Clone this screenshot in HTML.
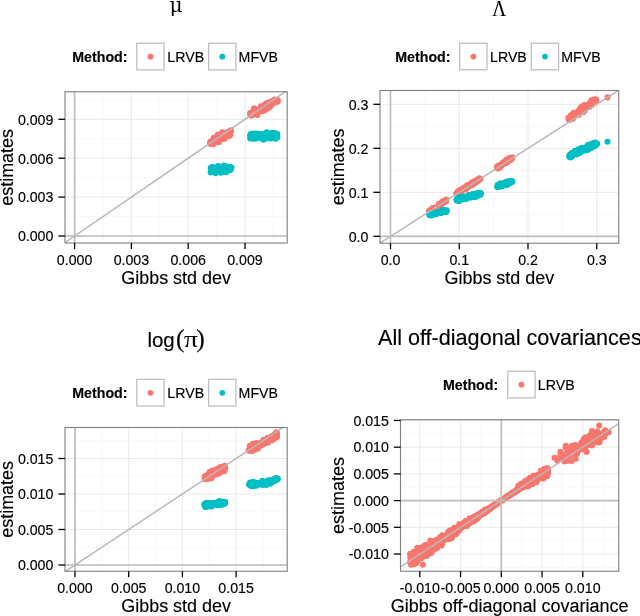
<!DOCTYPE html>
<html><head><meta charset="utf-8"><title>LRVB vs MFVB</title>
<style>html,body{margin:0;padding:0;background:#fff;}svg{display:block;}text{font-family:'Liberation Sans', Arial, Helvetica, sans-serif;fill:#000;stroke:#000;stroke-width:0.15px;}</style>
</head><body>
<svg width="640" height="616" viewBox="0 0 640 616" style="will-change:transform">
<rect width="640" height="616" fill="#fff"/>
<clipPath id="c1"><rect x="65" y="91.75" width="222.2" height="151.25"/></clipPath>
<g clip-path="url(#c1)">
<line x1="103.00" x2="103.00" y1="91.75" y2="243" stroke="#f6f6f6" stroke-width="0.8"/>
<line x1="159.80" x2="159.80" y1="91.75" y2="243" stroke="#f6f6f6" stroke-width="0.8"/>
<line x1="216.60" x2="216.60" y1="91.75" y2="243" stroke="#f6f6f6" stroke-width="0.8"/>
<line x1="273.40" x2="273.40" y1="91.75" y2="243" stroke="#f6f6f6" stroke-width="0.8"/>
<line y1="216.55" y2="216.55" x1="65" x2="287.2" stroke="#f6f6f6" stroke-width="0.8"/>
<line y1="177.65" y2="177.65" x1="65" x2="287.2" stroke="#f6f6f6" stroke-width="0.8"/>
<line y1="138.75" y2="138.75" x1="65" x2="287.2" stroke="#f6f6f6" stroke-width="0.8"/>
<line y1="99.85" y2="99.85" x1="65" x2="287.2" stroke="#f6f6f6" stroke-width="0.8"/>
<line x1="74.60" x2="74.60" y1="91.75" y2="243" stroke="#e6e6e6" stroke-width="0.9"/>
<line x1="131.40" x2="131.40" y1="91.75" y2="243" stroke="#e6e6e6" stroke-width="0.9"/>
<line x1="188.20" x2="188.20" y1="91.75" y2="243" stroke="#e6e6e6" stroke-width="0.9"/>
<line x1="245.00" x2="245.00" y1="91.75" y2="243" stroke="#e6e6e6" stroke-width="0.9"/>
<line y1="236.00" y2="236.00" x1="65" x2="287.2" stroke="#e6e6e6" stroke-width="0.9"/>
<line y1="197.10" y2="197.10" x1="65" x2="287.2" stroke="#e6e6e6" stroke-width="0.9"/>
<line y1="158.20" y2="158.20" x1="65" x2="287.2" stroke="#e6e6e6" stroke-width="0.9"/>
<line y1="119.30" y2="119.30" x1="65" x2="287.2" stroke="#e6e6e6" stroke-width="0.9"/>
<g fill="#F8766D">
<circle cx="216.9" cy="140.7" r="3.05"/>
<circle cx="221.4" cy="138.8" r="3.05"/>
<circle cx="211.2" cy="141.8" r="3.05"/>
<circle cx="211.5" cy="142.1" r="3.05"/>
<circle cx="219.0" cy="138.4" r="3.05"/>
<circle cx="223.4" cy="134.8" r="3.05"/>
<circle cx="222.3" cy="132.3" r="3.05"/>
<circle cx="228.3" cy="135.8" r="3.05"/>
<circle cx="213.1" cy="142.3" r="3.05"/>
<circle cx="213.8" cy="141.8" r="3.05"/>
<circle cx="223.6" cy="133.9" r="3.05"/>
<circle cx="211.3" cy="143.6" r="3.05"/>
<circle cx="224.5" cy="133.6" r="3.05"/>
<circle cx="219.7" cy="138.3" r="3.05"/>
<circle cx="226.9" cy="133.3" r="3.05"/>
<circle cx="221.2" cy="135.5" r="3.05"/>
<circle cx="225.5" cy="133.3" r="3.05"/>
<circle cx="218.9" cy="142.3" r="3.05"/>
<circle cx="213.2" cy="140.7" r="3.05"/>
<circle cx="226.3" cy="134.1" r="3.05"/>
<circle cx="228.6" cy="131.7" r="3.05"/>
<circle cx="222.4" cy="138.7" r="3.05"/>
<circle cx="227.9" cy="135.0" r="3.05"/>
<circle cx="211.3" cy="141.6" r="3.05"/>
<circle cx="223.8" cy="138.8" r="3.05"/>
<circle cx="218.2" cy="138.3" r="3.05"/>
<circle cx="210.5" cy="141.9" r="3.05"/>
<circle cx="211.3" cy="142.4" r="3.05"/>
<circle cx="212.8" cy="141.4" r="3.05"/>
<circle cx="211.7" cy="143.5" r="3.05"/>
<circle cx="221.7" cy="139.0" r="3.05"/>
<circle cx="215.9" cy="137.4" r="3.05"/>
<circle cx="217.6" cy="142.1" r="3.05"/>
<circle cx="213.8" cy="137.9" r="3.05"/>
<circle cx="215.0" cy="137.8" r="3.05"/>
<circle cx="210.1" cy="143.0" r="3.05"/>
<circle cx="217.9" cy="134.5" r="3.05"/>
<circle cx="221.0" cy="135.1" r="3.05"/>
<circle cx="224.4" cy="138.7" r="3.05"/>
<circle cx="228.6" cy="134.0" r="3.05"/>
<circle cx="218.4" cy="137.7" r="3.05"/>
<circle cx="211.3" cy="142.6" r="3.05"/>
<circle cx="214.4" cy="141.3" r="3.05"/>
<circle cx="210.0" cy="143.7" r="3.05"/>
<circle cx="212.2" cy="141.5" r="3.05"/>
<circle cx="223.1" cy="136.1" r="3.05"/>
<circle cx="215.4" cy="139.0" r="3.05"/>
<circle cx="228.1" cy="134.4" r="3.05"/>
<circle cx="219.9" cy="136.7" r="3.05"/>
<circle cx="217.3" cy="139.0" r="3.05"/>
<circle cx="227.7" cy="133.5" r="3.05"/>
<circle cx="221.3" cy="137.1" r="3.05"/>
<circle cx="221.6" cy="138.8" r="3.05"/>
<circle cx="228.4" cy="133.2" r="3.05"/>
<circle cx="215.6" cy="139.1" r="3.05"/>
<circle cx="221.3" cy="137.5" r="3.05"/>
<circle cx="217.0" cy="139.6" r="3.05"/>
<circle cx="228.2" cy="136.1" r="3.05"/>
<circle cx="227.4" cy="133.3" r="3.05"/>
<circle cx="217.6" cy="137.5" r="3.05"/>
<circle cx="210.6" cy="142.4" r="3.05"/>
<circle cx="230.4" cy="132.9" r="3.05"/>
<circle cx="230.0" cy="135.6" r="3.05"/>
<circle cx="214.7" cy="140.0" r="3.05"/>
<circle cx="214.2" cy="141.3" r="3.05"/>
<circle cx="227.9" cy="135.5" r="3.05"/>
<circle cx="223.9" cy="135.6" r="3.05"/>
<circle cx="229.4" cy="131.7" r="3.05"/>
<circle cx="226.0" cy="133.1" r="3.05"/>
<circle cx="217.1" cy="139.2" r="3.05"/>
<circle cx="230.7" cy="130.5" r="3.05"/>
<circle cx="225.4" cy="135.6" r="3.05"/>
<circle cx="212.7" cy="143.5" r="3.05"/>
<circle cx="213.1" cy="144.2" r="3.05"/>
<circle cx="230.9" cy="130.9" r="3.05"/>
<circle cx="212.8" cy="140.1" r="3.05"/>
<circle cx="230.7" cy="130.6" r="3.05"/>
<circle cx="219.2" cy="136.1" r="3.05"/>
<circle cx="227.6" cy="133.6" r="3.05"/>
<circle cx="215.1" cy="141.4" r="3.05"/>
<circle cx="215.5" cy="139.1" r="3.05"/>
<circle cx="217.5" cy="139.3" r="3.05"/>
<circle cx="222.4" cy="137.7" r="3.05"/>
<circle cx="220.7" cy="136.0" r="3.05"/>
<circle cx="221.2" cy="138.8" r="3.05"/>
<circle cx="250.1" cy="114.4" r="3.05"/>
<circle cx="254.8" cy="109.1" r="3.05"/>
<circle cx="259.1" cy="110.2" r="3.05"/>
<circle cx="265.6" cy="106.7" r="3.05"/>
<circle cx="257.0" cy="110.0" r="3.05"/>
<circle cx="271.6" cy="101.2" r="3.05"/>
<circle cx="275.5" cy="101.4" r="3.05"/>
<circle cx="267.2" cy="103.6" r="3.05"/>
<circle cx="262.7" cy="107.9" r="3.05"/>
<circle cx="263.4" cy="110.2" r="3.05"/>
<circle cx="276.4" cy="100.3" r="3.05"/>
<circle cx="265.7" cy="109.7" r="3.05"/>
<circle cx="253.4" cy="111.5" r="3.05"/>
<circle cx="252.0" cy="113.3" r="3.05"/>
<circle cx="272.0" cy="104.0" r="3.05"/>
<circle cx="254.3" cy="111.6" r="3.05"/>
<circle cx="274.7" cy="99.6" r="3.05"/>
<circle cx="256.1" cy="112.9" r="3.05"/>
<circle cx="277.7" cy="100.1" r="3.05"/>
<circle cx="254.5" cy="110.2" r="3.05"/>
<circle cx="255.5" cy="112.4" r="3.05"/>
<circle cx="270.2" cy="106.5" r="3.05"/>
<circle cx="250.5" cy="114.2" r="3.05"/>
<circle cx="267.5" cy="104.9" r="3.05"/>
<circle cx="272.1" cy="103.2" r="3.05"/>
<circle cx="252.9" cy="112.8" r="3.05"/>
<circle cx="257.6" cy="111.0" r="3.05"/>
<circle cx="261.8" cy="111.2" r="3.05"/>
<circle cx="254.2" cy="110.5" r="3.05"/>
<circle cx="266.0" cy="106.1" r="3.05"/>
<circle cx="269.3" cy="103.9" r="3.05"/>
<circle cx="252.0" cy="115.3" r="3.05"/>
<circle cx="252.3" cy="112.3" r="3.05"/>
<circle cx="251.9" cy="114.5" r="3.05"/>
<circle cx="265.5" cy="105.0" r="3.05"/>
<circle cx="257.5" cy="112.1" r="3.05"/>
<circle cx="253.1" cy="114.2" r="3.05"/>
<circle cx="251.4" cy="114.0" r="3.05"/>
<circle cx="271.3" cy="105.1" r="3.05"/>
<circle cx="264.0" cy="108.0" r="3.05"/>
<circle cx="257.0" cy="112.3" r="3.05"/>
<circle cx="270.5" cy="102.9" r="3.05"/>
<circle cx="276.2" cy="100.9" r="3.05"/>
<circle cx="272.9" cy="101.0" r="3.05"/>
<circle cx="261.0" cy="109.7" r="3.05"/>
<circle cx="269.3" cy="106.3" r="3.05"/>
<circle cx="269.8" cy="104.2" r="3.05"/>
<circle cx="261.3" cy="108.3" r="3.05"/>
<circle cx="252.0" cy="113.7" r="3.05"/>
<circle cx="257.2" cy="111.1" r="3.05"/>
<circle cx="274.4" cy="102.7" r="3.05"/>
<circle cx="257.9" cy="110.4" r="3.05"/>
<circle cx="254.4" cy="113.5" r="3.05"/>
<circle cx="257.4" cy="114.9" r="3.05"/>
<circle cx="256.8" cy="109.7" r="3.05"/>
<circle cx="258.7" cy="109.9" r="3.05"/>
<circle cx="263.3" cy="107.7" r="3.05"/>
<circle cx="255.6" cy="111.3" r="3.05"/>
<circle cx="252.5" cy="113.0" r="3.05"/>
<circle cx="251.2" cy="114.9" r="3.05"/>
<circle cx="266.4" cy="106.3" r="3.05"/>
<circle cx="271.0" cy="102.2" r="3.05"/>
<circle cx="260.9" cy="106.4" r="3.05"/>
<circle cx="277.6" cy="101.7" r="3.05"/>
<circle cx="251.2" cy="115.6" r="3.05"/>
<circle cx="275.0" cy="100.0" r="3.05"/>
<circle cx="253.9" cy="110.4" r="3.05"/>
<circle cx="264.1" cy="108.9" r="3.05"/>
<circle cx="266.4" cy="103.3" r="3.05"/>
<circle cx="269.1" cy="104.3" r="3.05"/>
<circle cx="253.7" cy="111.3" r="3.05"/>
<circle cx="252.9" cy="113.9" r="3.05"/>
<circle cx="267.5" cy="103.5" r="3.05"/>
<circle cx="263.7" cy="110.7" r="3.05"/>
<circle cx="264.1" cy="107.3" r="3.05"/>
<circle cx="268.5" cy="107.8" r="3.05"/>
<circle cx="252.1" cy="114.3" r="3.05"/>
<circle cx="270.4" cy="104.9" r="3.05"/>
<circle cx="263.8" cy="110.2" r="3.05"/>
<circle cx="263.4" cy="106.3" r="3.05"/>
<circle cx="268.0" cy="102.5" r="3.05"/>
<circle cx="254.1" cy="112.2" r="3.05"/>
<circle cx="265.9" cy="109.3" r="3.05"/>
<circle cx="251.7" cy="113.2" r="3.05"/>
<circle cx="268.9" cy="107.5" r="3.05"/>
<circle cx="264.5" cy="105.1" r="3.05"/>
<circle cx="275.0" cy="102.2" r="3.05"/>
<circle cx="277.4" cy="100.8" r="3.05"/>
<circle cx="273.0" cy="102.7" r="3.05"/>
<circle cx="262.6" cy="107.9" r="3.05"/>
<circle cx="255.9" cy="112.6" r="3.05"/>
<circle cx="254.0" cy="108.3" r="3.05"/>
<circle cx="273.0" cy="102.2" r="3.05"/>
<circle cx="274.8" cy="101.5" r="3.05"/>
<circle cx="263.6" cy="106.2" r="3.05"/>
<circle cx="250.1" cy="113.0" r="3.05"/>
<circle cx="253.9" cy="112.4" r="3.05"/>
<circle cx="258.9" cy="109.9" r="3.05"/>
<circle cx="273.5" cy="102.5" r="3.05"/>
<circle cx="275.9" cy="100.6" r="3.05"/>
</g>
<g fill="#00BFC4">
<circle cx="218.0" cy="166.1" r="3.05"/>
<circle cx="231.5" cy="167.6" r="3.05"/>
<circle cx="215.9" cy="168.8" r="3.05"/>
<circle cx="212.2" cy="170.4" r="3.05"/>
<circle cx="215.4" cy="168.5" r="3.05"/>
<circle cx="221.0" cy="169.7" r="3.05"/>
<circle cx="229.0" cy="169.8" r="3.05"/>
<circle cx="223.6" cy="172.1" r="3.05"/>
<circle cx="225.5" cy="166.9" r="3.05"/>
<circle cx="225.7" cy="166.3" r="3.05"/>
<circle cx="216.2" cy="170.3" r="3.05"/>
<circle cx="229.9" cy="169.5" r="3.05"/>
<circle cx="216.4" cy="170.7" r="3.05"/>
<circle cx="231.0" cy="168.2" r="3.05"/>
<circle cx="222.0" cy="171.3" r="3.05"/>
<circle cx="213.6" cy="170.2" r="3.05"/>
<circle cx="220.7" cy="170.0" r="3.05"/>
<circle cx="229.5" cy="170.0" r="3.05"/>
<circle cx="214.1" cy="169.6" r="3.05"/>
<circle cx="217.4" cy="170.4" r="3.05"/>
<circle cx="222.2" cy="169.6" r="3.05"/>
<circle cx="226.1" cy="167.4" r="3.05"/>
<circle cx="218.1" cy="170.2" r="3.05"/>
<circle cx="211.3" cy="169.3" r="3.05"/>
<circle cx="220.8" cy="172.8" r="3.05"/>
<circle cx="228.6" cy="168.8" r="3.05"/>
<circle cx="218.6" cy="170.5" r="3.05"/>
<circle cx="230.5" cy="169.8" r="3.05"/>
<circle cx="210.7" cy="168.0" r="3.05"/>
<circle cx="229.3" cy="166.7" r="3.05"/>
<circle cx="218.4" cy="169.7" r="3.05"/>
<circle cx="227.8" cy="171.0" r="3.05"/>
<circle cx="212.3" cy="166.9" r="3.05"/>
<circle cx="221.2" cy="167.6" r="3.05"/>
<circle cx="223.9" cy="165.6" r="3.05"/>
<circle cx="219.8" cy="168.8" r="3.05"/>
<circle cx="215.0" cy="169.5" r="3.05"/>
<circle cx="223.9" cy="168.6" r="3.05"/>
<circle cx="223.7" cy="169.7" r="3.05"/>
<circle cx="212.4" cy="171.4" r="3.05"/>
<circle cx="218.3" cy="170.1" r="3.05"/>
<circle cx="222.9" cy="170.3" r="3.05"/>
<circle cx="230.6" cy="168.4" r="3.05"/>
<circle cx="229.0" cy="167.5" r="3.05"/>
<circle cx="230.7" cy="168.5" r="3.05"/>
<circle cx="216.6" cy="171.3" r="3.05"/>
<circle cx="219.0" cy="169.5" r="3.05"/>
<circle cx="224.3" cy="169.8" r="3.05"/>
<circle cx="217.3" cy="168.9" r="3.05"/>
<circle cx="224.7" cy="169.7" r="3.05"/>
<circle cx="220.9" cy="171.7" r="3.05"/>
<circle cx="230.9" cy="167.5" r="3.05"/>
<circle cx="214.8" cy="172.2" r="3.05"/>
<circle cx="216.3" cy="171.2" r="3.05"/>
<circle cx="214.8" cy="169.1" r="3.05"/>
<circle cx="224.3" cy="169.7" r="3.05"/>
<circle cx="214.6" cy="169.4" r="3.05"/>
<circle cx="213.1" cy="170.2" r="3.05"/>
<circle cx="229.3" cy="168.6" r="3.05"/>
<circle cx="225.8" cy="172.3" r="3.05"/>
<circle cx="214.0" cy="169.6" r="3.05"/>
<circle cx="226.0" cy="170.9" r="3.05"/>
<circle cx="218.0" cy="169.8" r="3.05"/>
<circle cx="213.6" cy="170.9" r="3.05"/>
<circle cx="230.5" cy="168.4" r="3.05"/>
<circle cx="230.7" cy="168.7" r="3.05"/>
<circle cx="227.7" cy="169.9" r="3.05"/>
<circle cx="211.1" cy="168.7" r="3.05"/>
<circle cx="214.2" cy="169.9" r="3.05"/>
<circle cx="229.3" cy="169.9" r="3.05"/>
<circle cx="226.5" cy="169.0" r="3.05"/>
<circle cx="210.7" cy="172.4" r="3.05"/>
<circle cx="226.1" cy="170.0" r="3.05"/>
<circle cx="217.3" cy="168.9" r="3.05"/>
<circle cx="215.6" cy="173.2" r="3.05"/>
<circle cx="216.8" cy="169.4" r="3.05"/>
<circle cx="229.7" cy="168.6" r="3.05"/>
<circle cx="230.3" cy="169.3" r="3.05"/>
<circle cx="230.6" cy="168.5" r="3.05"/>
<circle cx="218.3" cy="169.3" r="3.05"/>
<circle cx="275.5" cy="136.8" r="3.05"/>
<circle cx="272.1" cy="135.1" r="3.05"/>
<circle cx="266.7" cy="132.3" r="3.05"/>
<circle cx="258.8" cy="134.0" r="3.05"/>
<circle cx="255.4" cy="138.6" r="3.05"/>
<circle cx="256.8" cy="136.6" r="3.05"/>
<circle cx="259.0" cy="136.3" r="3.05"/>
<circle cx="274.3" cy="136.5" r="3.05"/>
<circle cx="252.7" cy="136.3" r="3.05"/>
<circle cx="269.5" cy="134.2" r="3.05"/>
<circle cx="267.1" cy="136.0" r="3.05"/>
<circle cx="270.6" cy="136.9" r="3.05"/>
<circle cx="273.1" cy="133.2" r="3.05"/>
<circle cx="265.6" cy="133.6" r="3.05"/>
<circle cx="256.8" cy="138.3" r="3.05"/>
<circle cx="254.2" cy="138.0" r="3.05"/>
<circle cx="260.9" cy="134.4" r="3.05"/>
<circle cx="264.0" cy="136.2" r="3.05"/>
<circle cx="277.3" cy="137.2" r="3.05"/>
<circle cx="263.1" cy="137.3" r="3.05"/>
<circle cx="251.1" cy="134.0" r="3.05"/>
<circle cx="253.3" cy="138.1" r="3.05"/>
<circle cx="275.6" cy="138.8" r="3.05"/>
<circle cx="273.8" cy="134.0" r="3.05"/>
<circle cx="276.0" cy="135.5" r="3.05"/>
<circle cx="266.4" cy="134.7" r="3.05"/>
<circle cx="253.9" cy="135.6" r="3.05"/>
<circle cx="257.0" cy="134.1" r="3.05"/>
<circle cx="250.3" cy="135.5" r="3.05"/>
<circle cx="268.7" cy="136.1" r="3.05"/>
<circle cx="271.9" cy="136.7" r="3.05"/>
<circle cx="251.7" cy="137.7" r="3.05"/>
<circle cx="267.6" cy="136.7" r="3.05"/>
<circle cx="254.5" cy="135.7" r="3.05"/>
<circle cx="258.5" cy="134.4" r="3.05"/>
<circle cx="258.6" cy="134.5" r="3.05"/>
<circle cx="273.8" cy="134.6" r="3.05"/>
<circle cx="260.0" cy="137.0" r="3.05"/>
<circle cx="250.2" cy="138.4" r="3.05"/>
<circle cx="261.7" cy="136.7" r="3.05"/>
<circle cx="262.7" cy="134.2" r="3.05"/>
<circle cx="250.4" cy="134.8" r="3.05"/>
<circle cx="252.4" cy="135.7" r="3.05"/>
<circle cx="260.2" cy="135.0" r="3.05"/>
<circle cx="264.3" cy="135.7" r="3.05"/>
<circle cx="253.0" cy="133.5" r="3.05"/>
<circle cx="255.4" cy="136.5" r="3.05"/>
<circle cx="275.9" cy="136.8" r="3.05"/>
<circle cx="275.5" cy="134.8" r="3.05"/>
<circle cx="274.9" cy="133.0" r="3.05"/>
<circle cx="271.6" cy="133.1" r="3.05"/>
<circle cx="261.1" cy="137.9" r="3.05"/>
<circle cx="256.0" cy="133.5" r="3.05"/>
<circle cx="264.2" cy="135.1" r="3.05"/>
<circle cx="269.9" cy="136.1" r="3.05"/>
<circle cx="251.1" cy="134.3" r="3.05"/>
<circle cx="273.1" cy="134.2" r="3.05"/>
<circle cx="266.5" cy="133.2" r="3.05"/>
<circle cx="261.6" cy="135.1" r="3.05"/>
<circle cx="261.7" cy="134.8" r="3.05"/>
<circle cx="250.6" cy="135.3" r="3.05"/>
<circle cx="263.5" cy="136.1" r="3.05"/>
<circle cx="262.6" cy="138.9" r="3.05"/>
<circle cx="263.0" cy="136.6" r="3.05"/>
<circle cx="252.5" cy="137.0" r="3.05"/>
<circle cx="264.0" cy="138.3" r="3.05"/>
<circle cx="270.2" cy="136.1" r="3.05"/>
<circle cx="264.1" cy="137.8" r="3.05"/>
<circle cx="276.1" cy="135.7" r="3.05"/>
<circle cx="273.6" cy="138.0" r="3.05"/>
<circle cx="255.3" cy="136.2" r="3.05"/>
<circle cx="263.5" cy="139.7" r="3.05"/>
<circle cx="271.7" cy="134.3" r="3.05"/>
<circle cx="251.8" cy="135.0" r="3.05"/>
<circle cx="274.7" cy="137.4" r="3.05"/>
<circle cx="272.4" cy="136.6" r="3.05"/>
<circle cx="255.7" cy="137.9" r="3.05"/>
<circle cx="263.9" cy="135.6" r="3.05"/>
<circle cx="254.4" cy="136.8" r="3.05"/>
<circle cx="268.7" cy="136.4" r="3.05"/>
<circle cx="253.2" cy="135.8" r="3.05"/>
<circle cx="267.5" cy="133.2" r="3.05"/>
<circle cx="266.0" cy="138.5" r="3.05"/>
<circle cx="252.9" cy="138.7" r="3.05"/>
<circle cx="271.9" cy="135.2" r="3.05"/>
<circle cx="277.2" cy="134.0" r="3.05"/>
<circle cx="262.2" cy="135.1" r="3.05"/>
<circle cx="270.4" cy="138.6" r="3.05"/>
<circle cx="267.6" cy="136.6" r="3.05"/>
<circle cx="266.1" cy="134.9" r="3.05"/>
<circle cx="250.9" cy="135.5" r="3.05"/>
<circle cx="266.9" cy="133.6" r="3.05"/>
<circle cx="253.6" cy="137.2" r="3.05"/>
<circle cx="268.0" cy="135.7" r="3.05"/>
<circle cx="252.9" cy="136.4" r="3.05"/>
<circle cx="256.2" cy="134.2" r="3.05"/>
<circle cx="267.2" cy="134.4" r="3.05"/>
<circle cx="253.7" cy="137.5" r="3.05"/>
<circle cx="252.6" cy="136.0" r="3.05"/>
<circle cx="274.0" cy="135.5" r="3.05"/>
</g>
<line x1="65" x2="287.2" y1="236.00" y2="236.00" stroke="#bebebe" stroke-width="1.65"/>
<line y1="91.75" y2="243" x1="74.60" x2="74.60" stroke="#bebebe" stroke-width="1.65"/>
<line x1="36.73" y1="261.93" x2="320.73" y2="67.43" stroke="#b8b8b8" stroke-width="1.5"/>
</g>
<rect x="65" y="91.75" width="222.2" height="151.25" fill="none" stroke="#7f7f7f" stroke-width="1.1"/>
<line x1="74.60" x2="74.60" y1="243" y2="249" stroke="#000" stroke-width="1.3"/>
<text x="74.60" y="264.6" font-size="14.2" text-anchor="middle">0.000</text>
<line x1="131.40" x2="131.40" y1="243" y2="249" stroke="#000" stroke-width="1.3"/>
<text x="131.40" y="264.6" font-size="14.2" text-anchor="middle">0.003</text>
<line x1="188.20" x2="188.20" y1="243" y2="249" stroke="#000" stroke-width="1.3"/>
<text x="188.20" y="264.6" font-size="14.2" text-anchor="middle">0.006</text>
<line x1="245.00" x2="245.00" y1="243" y2="249" stroke="#000" stroke-width="1.3"/>
<text x="245.00" y="264.6" font-size="14.2" text-anchor="middle">0.009</text>
<line y1="236.00" y2="236.00" x1="58.4" x2="65" stroke="#000" stroke-width="1.3"/>
<text x="53.40" y="241.30" font-size="14.2" text-anchor="end">0.000</text>
<line y1="197.10" y2="197.10" x1="58.4" x2="65" stroke="#000" stroke-width="1.3"/>
<text x="53.40" y="202.40" font-size="14.2" text-anchor="end">0.003</text>
<line y1="158.20" y2="158.20" x1="58.4" x2="65" stroke="#000" stroke-width="1.3"/>
<text x="53.40" y="163.50" font-size="14.2" text-anchor="end">0.006</text>
<line y1="119.30" y2="119.30" x1="58.4" x2="65" stroke="#000" stroke-width="1.3"/>
<text x="53.40" y="124.60" font-size="14.2" text-anchor="end">0.009</text>
<text x="176.10" y="284.2" font-size="17.95" text-anchor="middle">Gibbs std dev</text>
<text transform="translate(13.2,167.38) rotate(-90)" font-size="17.95" text-anchor="middle">estimates</text>
<text transform="translate(176.1,11.9) scale(1.0,1)" x="0" y="0" font-size="20.2" text-anchor="middle" style="font-family:'DejaVu Serif',serif;stroke-width:0">μ</text>
<text x="72.3" y="62" font-size="14.2" font-weight="bold">Method:</text>
<rect x="136.8" y="43.30" width="27.3" height="26.6" fill="#fff" stroke="#bdbdbd" stroke-width="1.25"/>
<circle cx="150.50" cy="56.70" r="2.9" fill="#F8766D"/>
<text x="167.3" y="62" font-size="14.2">LRVB</text>
<rect x="208.6" y="43.30" width="27.3" height="26.6" fill="#fff" stroke="#bdbdbd" stroke-width="1.25"/>
<circle cx="222.30" cy="56.70" r="2.9" fill="#00BFC4"/>
<text x="238.6" y="62" font-size="14.2">MFVB</text>
<clipPath id="c2"><rect x="380" y="90.5" width="238.75" height="152.75"/></clipPath>
<g clip-path="url(#c2)">
<line x1="424.88" x2="424.88" y1="90.5" y2="243.25" stroke="#f6f6f6" stroke-width="0.8"/>
<line x1="493.62" x2="493.62" y1="90.5" y2="243.25" stroke="#f6f6f6" stroke-width="0.8"/>
<line x1="562.38" x2="562.38" y1="90.5" y2="243.25" stroke="#f6f6f6" stroke-width="0.8"/>
<line y1="214.30" y2="214.30" x1="380" x2="618.75" stroke="#f6f6f6" stroke-width="0.8"/>
<line y1="170.30" y2="170.30" x1="380" x2="618.75" stroke="#f6f6f6" stroke-width="0.8"/>
<line y1="126.30" y2="126.30" x1="380" x2="618.75" stroke="#f6f6f6" stroke-width="0.8"/>
<line x1="390.50" x2="390.50" y1="90.5" y2="243.25" stroke="#e6e6e6" stroke-width="0.9"/>
<line x1="459.25" x2="459.25" y1="90.5" y2="243.25" stroke="#e6e6e6" stroke-width="0.9"/>
<line x1="528.00" x2="528.00" y1="90.5" y2="243.25" stroke="#e6e6e6" stroke-width="0.9"/>
<line x1="596.75" x2="596.75" y1="90.5" y2="243.25" stroke="#e6e6e6" stroke-width="0.9"/>
<line y1="236.30" y2="236.30" x1="380" x2="618.75" stroke="#e6e6e6" stroke-width="0.9"/>
<line y1="192.30" y2="192.30" x1="380" x2="618.75" stroke="#e6e6e6" stroke-width="0.9"/>
<line y1="148.30" y2="148.30" x1="380" x2="618.75" stroke="#e6e6e6" stroke-width="0.9"/>
<line y1="104.30" y2="104.30" x1="380" x2="618.75" stroke="#e6e6e6" stroke-width="0.9"/>
<g fill="#F8766D">
<circle cx="429.1" cy="211.1" r="3.05"/>
<circle cx="432.4" cy="208.9" r="3.05"/>
<circle cx="434.6" cy="208.3" r="3.05"/>
<circle cx="430.5" cy="210.7" r="3.05"/>
<circle cx="431.4" cy="209.8" r="3.05"/>
<circle cx="429.4" cy="211.3" r="3.05"/>
<circle cx="434.6" cy="207.8" r="3.05"/>
<circle cx="430.2" cy="210.3" r="3.05"/>
<circle cx="433.9" cy="208.0" r="3.05"/>
<circle cx="430.9" cy="210.2" r="3.05"/>
<circle cx="433.7" cy="208.6" r="3.05"/>
<circle cx="429.0" cy="211.8" r="3.05"/>
<circle cx="433.5" cy="207.9" r="3.05"/>
<circle cx="430.4" cy="210.9" r="3.05"/>
<circle cx="431.0" cy="210.4" r="3.05"/>
<circle cx="433.2" cy="209.2" r="3.05"/>
<circle cx="432.3" cy="208.7" r="3.05"/>
<circle cx="433.7" cy="208.1" r="3.05"/>
<circle cx="434.8" cy="207.7" r="3.05"/>
<circle cx="434.3" cy="208.4" r="3.05"/>
<circle cx="433.5" cy="208.6" r="3.05"/>
<circle cx="433.5" cy="208.1" r="3.05"/>
<circle cx="430.4" cy="211.5" r="3.05"/>
<circle cx="432.8" cy="208.8" r="3.05"/>
<circle cx="431.8" cy="209.0" r="3.05"/>
<circle cx="444.2" cy="202.1" r="3.05"/>
<circle cx="443.3" cy="201.8" r="3.05"/>
<circle cx="440.6" cy="203.8" r="3.05"/>
<circle cx="440.1" cy="204.1" r="3.05"/>
<circle cx="439.8" cy="204.9" r="3.05"/>
<circle cx="439.2" cy="204.7" r="3.05"/>
<circle cx="444.2" cy="201.1" r="3.05"/>
<circle cx="439.5" cy="204.1" r="3.05"/>
<circle cx="441.7" cy="203.7" r="3.05"/>
<circle cx="439.5" cy="203.8" r="3.05"/>
<circle cx="445.9" cy="200.8" r="3.05"/>
<circle cx="439.8" cy="204.4" r="3.05"/>
<circle cx="445.4" cy="201.2" r="3.05"/>
<circle cx="443.7" cy="201.2" r="3.05"/>
<circle cx="439.7" cy="205.3" r="3.05"/>
<circle cx="441.4" cy="204.1" r="3.05"/>
<circle cx="439.2" cy="204.9" r="3.05"/>
<circle cx="441.8" cy="203.7" r="3.05"/>
<circle cx="446.2" cy="199.5" r="3.05"/>
<circle cx="439.2" cy="204.8" r="3.05"/>
<circle cx="442.3" cy="203.0" r="3.05"/>
<circle cx="443.0" cy="201.9" r="3.05"/>
<circle cx="445.5" cy="201.7" r="3.05"/>
<circle cx="439.0" cy="205.4" r="3.05"/>
<circle cx="444.7" cy="201.4" r="3.05"/>
<circle cx="442.7" cy="202.6" r="3.05"/>
<circle cx="440.4" cy="203.6" r="3.05"/>
<circle cx="441.0" cy="203.8" r="3.05"/>
<circle cx="441.1" cy="203.8" r="3.05"/>
<circle cx="439.8" cy="205.3" r="3.05"/>
<circle cx="439.6" cy="204.8" r="3.05"/>
<circle cx="443.7" cy="201.1" r="3.05"/>
<circle cx="442.0" cy="202.1" r="3.05"/>
<circle cx="445.7" cy="201.4" r="3.05"/>
<circle cx="440.5" cy="203.9" r="3.05"/>
<circle cx="465.8" cy="189.2" r="3.05"/>
<circle cx="462.2" cy="189.3" r="3.05"/>
<circle cx="474.9" cy="182.1" r="3.05"/>
<circle cx="465.0" cy="188.1" r="3.05"/>
<circle cx="472.7" cy="183.6" r="3.05"/>
<circle cx="460.7" cy="190.0" r="3.05"/>
<circle cx="459.6" cy="192.1" r="3.05"/>
<circle cx="478.2" cy="179.8" r="3.05"/>
<circle cx="473.7" cy="183.1" r="3.05"/>
<circle cx="460.3" cy="191.5" r="3.05"/>
<circle cx="469.3" cy="185.9" r="3.05"/>
<circle cx="464.5" cy="189.2" r="3.05"/>
<circle cx="459.0" cy="193.5" r="3.05"/>
<circle cx="459.0" cy="190.8" r="3.05"/>
<circle cx="474.5" cy="183.4" r="3.05"/>
<circle cx="461.3" cy="190.4" r="3.05"/>
<circle cx="466.0" cy="187.4" r="3.05"/>
<circle cx="466.3" cy="187.7" r="3.05"/>
<circle cx="472.0" cy="182.8" r="3.05"/>
<circle cx="460.0" cy="191.0" r="3.05"/>
<circle cx="478.7" cy="179.1" r="3.05"/>
<circle cx="470.6" cy="184.7" r="3.05"/>
<circle cx="474.2" cy="181.7" r="3.05"/>
<circle cx="475.5" cy="181.2" r="3.05"/>
<circle cx="472.2" cy="182.4" r="3.05"/>
<circle cx="464.2" cy="188.6" r="3.05"/>
<circle cx="475.7" cy="181.2" r="3.05"/>
<circle cx="471.9" cy="183.8" r="3.05"/>
<circle cx="471.7" cy="184.6" r="3.05"/>
<circle cx="473.0" cy="183.5" r="3.05"/>
<circle cx="475.6" cy="181.3" r="3.05"/>
<circle cx="468.5" cy="186.2" r="3.05"/>
<circle cx="460.4" cy="191.1" r="3.05"/>
<circle cx="479.5" cy="178.7" r="3.05"/>
<circle cx="469.8" cy="185.2" r="3.05"/>
<circle cx="469.0" cy="184.9" r="3.05"/>
<circle cx="466.6" cy="186.3" r="3.05"/>
<circle cx="461.6" cy="190.1" r="3.05"/>
<circle cx="459.5" cy="191.2" r="3.05"/>
<circle cx="465.2" cy="188.6" r="3.05"/>
<circle cx="456.8" cy="193.6" r="3.05"/>
<circle cx="466.8" cy="186.9" r="3.05"/>
<circle cx="462.0" cy="189.6" r="3.05"/>
<circle cx="479.5" cy="178.6" r="3.05"/>
<circle cx="466.1" cy="187.5" r="3.05"/>
<circle cx="459.7" cy="191.9" r="3.05"/>
<circle cx="468.0" cy="185.1" r="3.05"/>
<circle cx="462.0" cy="190.7" r="3.05"/>
<circle cx="476.6" cy="180.7" r="3.05"/>
<circle cx="468.0" cy="186.1" r="3.05"/>
<circle cx="476.9" cy="181.4" r="3.05"/>
<circle cx="477.3" cy="180.3" r="3.05"/>
<circle cx="466.9" cy="187.6" r="3.05"/>
<circle cx="456.6" cy="193.6" r="3.05"/>
<circle cx="463.9" cy="188.4" r="3.05"/>
<circle cx="467.0" cy="186.3" r="3.05"/>
<circle cx="479.3" cy="178.5" r="3.05"/>
<circle cx="457.9" cy="193.4" r="3.05"/>
<circle cx="459.9" cy="190.3" r="3.05"/>
<circle cx="472.0" cy="183.9" r="3.05"/>
<circle cx="472.6" cy="183.4" r="3.05"/>
<circle cx="459.0" cy="192.4" r="3.05"/>
<circle cx="465.0" cy="188.6" r="3.05"/>
<circle cx="478.7" cy="179.6" r="3.05"/>
<circle cx="471.4" cy="183.8" r="3.05"/>
<circle cx="472.9" cy="184.1" r="3.05"/>
<circle cx="461.3" cy="189.9" r="3.05"/>
<circle cx="469.5" cy="185.3" r="3.05"/>
<circle cx="470.1" cy="184.3" r="3.05"/>
<circle cx="462.2" cy="190.5" r="3.05"/>
<circle cx="467.9" cy="187.0" r="3.05"/>
<circle cx="468.5" cy="185.2" r="3.05"/>
<circle cx="456.7" cy="193.6" r="3.05"/>
<circle cx="468.0" cy="185.5" r="3.05"/>
<circle cx="465.7" cy="187.4" r="3.05"/>
<circle cx="480.0" cy="179.3" r="3.05"/>
<circle cx="457.2" cy="193.6" r="3.05"/>
<circle cx="473.2" cy="183.5" r="3.05"/>
<circle cx="469.0" cy="185.4" r="3.05"/>
<circle cx="478.5" cy="180.5" r="3.05"/>
<circle cx="464.8" cy="188.6" r="3.05"/>
<circle cx="465.5" cy="187.2" r="3.05"/>
<circle cx="461.7" cy="190.5" r="3.05"/>
<circle cx="466.8" cy="185.9" r="3.05"/>
<circle cx="476.8" cy="180.3" r="3.05"/>
<circle cx="468.8" cy="185.7" r="3.05"/>
<circle cx="472.5" cy="184.2" r="3.05"/>
<circle cx="464.6" cy="188.3" r="3.05"/>
<circle cx="472.1" cy="184.2" r="3.05"/>
<circle cx="457.5" cy="192.9" r="3.05"/>
<circle cx="457.7" cy="191.8" r="3.05"/>
<circle cx="456.7" cy="194.0" r="3.05"/>
<circle cx="472.6" cy="184.7" r="3.05"/>
<circle cx="478.8" cy="178.8" r="3.05"/>
<circle cx="473.6" cy="182.2" r="3.05"/>
<circle cx="473.2" cy="183.2" r="3.05"/>
<circle cx="475.2" cy="182.7" r="3.05"/>
<circle cx="460.9" cy="191.9" r="3.05"/>
<circle cx="472.6" cy="183.7" r="3.05"/>
<circle cx="476.7" cy="181.0" r="3.05"/>
<circle cx="463.9" cy="188.1" r="3.05"/>
<circle cx="464.3" cy="187.8" r="3.05"/>
<circle cx="457.8" cy="193.2" r="3.05"/>
<circle cx="457.5" cy="193.8" r="3.05"/>
<circle cx="479.0" cy="180.0" r="3.05"/>
<circle cx="456.8" cy="193.0" r="3.05"/>
<circle cx="480.5" cy="178.7" r="3.05"/>
<circle cx="466.6" cy="188.0" r="3.05"/>
<circle cx="460.2" cy="191.9" r="3.05"/>
<circle cx="456.6" cy="193.5" r="3.05"/>
<circle cx="458.7" cy="192.0" r="3.05"/>
<circle cx="459.7" cy="192.6" r="3.05"/>
<circle cx="474.5" cy="182.3" r="3.05"/>
<circle cx="457.7" cy="193.0" r="3.05"/>
<circle cx="474.4" cy="181.2" r="3.05"/>
<circle cx="471.9" cy="183.6" r="3.05"/>
<circle cx="462.7" cy="189.0" r="3.05"/>
<circle cx="474.1" cy="182.6" r="3.05"/>
<circle cx="476.5" cy="180.9" r="3.05"/>
<circle cx="464.1" cy="188.8" r="3.05"/>
<circle cx="504.5" cy="162.3" r="3.05"/>
<circle cx="502.7" cy="163.2" r="3.05"/>
<circle cx="499.2" cy="165.8" r="3.05"/>
<circle cx="502.6" cy="163.3" r="3.05"/>
<circle cx="503.0" cy="162.9" r="3.05"/>
<circle cx="511.6" cy="158.3" r="3.05"/>
<circle cx="497.9" cy="166.2" r="3.05"/>
<circle cx="507.9" cy="160.9" r="3.05"/>
<circle cx="512.2" cy="157.4" r="3.05"/>
<circle cx="506.3" cy="161.3" r="3.05"/>
<circle cx="502.8" cy="164.6" r="3.05"/>
<circle cx="506.3" cy="162.7" r="3.05"/>
<circle cx="497.0" cy="167.1" r="3.05"/>
<circle cx="503.5" cy="162.2" r="3.05"/>
<circle cx="497.7" cy="166.6" r="3.05"/>
<circle cx="509.6" cy="160.1" r="3.05"/>
<circle cx="510.2" cy="158.4" r="3.05"/>
<circle cx="507.6" cy="161.4" r="3.05"/>
<circle cx="505.6" cy="161.7" r="3.05"/>
<circle cx="500.1" cy="165.6" r="3.05"/>
<circle cx="506.4" cy="159.7" r="3.05"/>
<circle cx="504.2" cy="163.1" r="3.05"/>
<circle cx="509.3" cy="160.2" r="3.05"/>
<circle cx="498.4" cy="167.1" r="3.05"/>
<circle cx="506.0" cy="160.6" r="3.05"/>
<circle cx="510.7" cy="158.0" r="3.05"/>
<circle cx="499.9" cy="165.6" r="3.05"/>
<circle cx="499.8" cy="165.6" r="3.05"/>
<circle cx="503.2" cy="162.9" r="3.05"/>
<circle cx="499.3" cy="167.8" r="3.05"/>
<circle cx="498.6" cy="167.2" r="3.05"/>
<circle cx="509.2" cy="160.3" r="3.05"/>
<circle cx="505.1" cy="163.3" r="3.05"/>
<circle cx="497.5" cy="168.5" r="3.05"/>
<circle cx="505.8" cy="161.8" r="3.05"/>
<circle cx="509.1" cy="158.2" r="3.05"/>
<circle cx="509.7" cy="160.2" r="3.05"/>
<circle cx="500.9" cy="165.6" r="3.05"/>
<circle cx="498.3" cy="166.9" r="3.05"/>
<circle cx="505.6" cy="162.6" r="3.05"/>
<circle cx="511.1" cy="158.0" r="3.05"/>
<circle cx="506.3" cy="161.3" r="3.05"/>
<circle cx="501.0" cy="165.3" r="3.05"/>
<circle cx="506.9" cy="162.3" r="3.05"/>
<circle cx="503.9" cy="162.8" r="3.05"/>
<circle cx="512.0" cy="158.4" r="3.05"/>
<circle cx="501.0" cy="165.0" r="3.05"/>
<circle cx="511.0" cy="159.7" r="3.05"/>
<circle cx="509.2" cy="158.9" r="3.05"/>
<circle cx="507.0" cy="161.4" r="3.05"/>
<circle cx="508.7" cy="160.0" r="3.05"/>
<circle cx="507.5" cy="160.5" r="3.05"/>
<circle cx="498.6" cy="167.4" r="3.05"/>
<circle cx="501.0" cy="165.6" r="3.05"/>
<circle cx="500.7" cy="165.8" r="3.05"/>
<circle cx="507.5" cy="162.0" r="3.05"/>
<circle cx="497.6" cy="167.3" r="3.05"/>
<circle cx="500.4" cy="166.8" r="3.05"/>
<circle cx="499.2" cy="165.6" r="3.05"/>
<circle cx="498.5" cy="167.8" r="3.05"/>
<circle cx="504.0" cy="162.4" r="3.05"/>
<circle cx="509.8" cy="158.3" r="3.05"/>
<circle cx="500.4" cy="165.5" r="3.05"/>
<circle cx="508.1" cy="160.1" r="3.05"/>
<circle cx="501.1" cy="164.8" r="3.05"/>
<circle cx="499.4" cy="165.9" r="3.05"/>
<circle cx="499.6" cy="167.3" r="3.05"/>
<circle cx="501.9" cy="164.7" r="3.05"/>
<circle cx="497.9" cy="166.9" r="3.05"/>
<circle cx="507.4" cy="161.1" r="3.05"/>
<circle cx="575.8" cy="115.3" r="3.05"/>
<circle cx="578.9" cy="114.8" r="3.05"/>
<circle cx="571.3" cy="116.9" r="3.05"/>
<circle cx="594.0" cy="103.1" r="3.05"/>
<circle cx="596.4" cy="100.3" r="3.05"/>
<circle cx="591.5" cy="102.8" r="3.05"/>
<circle cx="592.2" cy="103.2" r="3.05"/>
<circle cx="573.8" cy="112.9" r="3.05"/>
<circle cx="584.8" cy="108.9" r="3.05"/>
<circle cx="573.6" cy="115.7" r="3.05"/>
<circle cx="570.8" cy="115.7" r="3.05"/>
<circle cx="585.8" cy="106.1" r="3.05"/>
<circle cx="586.0" cy="107.0" r="3.05"/>
<circle cx="591.6" cy="102.4" r="3.05"/>
<circle cx="589.4" cy="104.2" r="3.05"/>
<circle cx="589.1" cy="107.0" r="3.05"/>
<circle cx="592.5" cy="103.2" r="3.05"/>
<circle cx="582.6" cy="112.1" r="3.05"/>
<circle cx="593.4" cy="102.2" r="3.05"/>
<circle cx="573.8" cy="115.9" r="3.05"/>
<circle cx="579.1" cy="110.7" r="3.05"/>
<circle cx="568.6" cy="118.0" r="3.05"/>
<circle cx="571.9" cy="116.5" r="3.05"/>
<circle cx="591.8" cy="103.7" r="3.05"/>
<circle cx="579.4" cy="110.7" r="3.05"/>
<circle cx="570.2" cy="119.6" r="3.05"/>
<circle cx="583.1" cy="106.7" r="3.05"/>
<circle cx="583.8" cy="111.5" r="3.05"/>
<circle cx="573.7" cy="115.8" r="3.05"/>
<circle cx="575.6" cy="114.2" r="3.05"/>
<circle cx="588.4" cy="105.0" r="3.05"/>
<circle cx="569.0" cy="117.7" r="3.05"/>
<circle cx="588.5" cy="104.3" r="3.05"/>
<circle cx="593.3" cy="101.9" r="3.05"/>
<circle cx="582.6" cy="108.9" r="3.05"/>
<circle cx="576.5" cy="114.4" r="3.05"/>
<circle cx="585.4" cy="108.3" r="3.05"/>
<circle cx="572.7" cy="114.3" r="3.05"/>
<circle cx="592.0" cy="101.9" r="3.05"/>
<circle cx="579.6" cy="109.3" r="3.05"/>
<circle cx="579.8" cy="112.4" r="3.05"/>
<circle cx="590.6" cy="103.3" r="3.05"/>
<circle cx="580.9" cy="111.3" r="3.05"/>
<circle cx="591.4" cy="105.2" r="3.05"/>
<circle cx="570.0" cy="117.0" r="3.05"/>
<circle cx="595.8" cy="100.9" r="3.05"/>
<circle cx="586.5" cy="106.2" r="3.05"/>
<circle cx="583.6" cy="109.8" r="3.05"/>
<circle cx="569.1" cy="119.0" r="3.05"/>
<circle cx="596.1" cy="100.4" r="3.05"/>
<circle cx="591.6" cy="100.3" r="3.05"/>
<circle cx="593.7" cy="103.3" r="3.05"/>
<circle cx="587.8" cy="106.1" r="3.05"/>
<circle cx="584.0" cy="109.9" r="3.05"/>
<circle cx="583.3" cy="108.0" r="3.05"/>
<circle cx="595.6" cy="100.2" r="3.05"/>
<circle cx="571.9" cy="117.6" r="3.05"/>
<circle cx="595.7" cy="99.5" r="3.05"/>
<circle cx="583.7" cy="108.5" r="3.05"/>
<circle cx="572.0" cy="117.2" r="3.05"/>
<circle cx="576.7" cy="114.1" r="3.05"/>
<circle cx="571.0" cy="115.2" r="3.05"/>
<circle cx="584.8" cy="107.1" r="3.05"/>
<circle cx="574.2" cy="114.7" r="3.05"/>
<circle cx="586.0" cy="105.6" r="3.05"/>
<circle cx="577.3" cy="113.0" r="3.05"/>
<circle cx="579.4" cy="112.4" r="3.05"/>
<circle cx="568.8" cy="117.7" r="3.05"/>
<circle cx="584.4" cy="110.1" r="3.05"/>
<circle cx="576.6" cy="114.5" r="3.05"/>
<circle cx="573.0" cy="115.8" r="3.05"/>
<circle cx="593.3" cy="101.5" r="3.05"/>
<circle cx="581.0" cy="110.5" r="3.05"/>
<circle cx="571.6" cy="117.3" r="3.05"/>
<circle cx="572.9" cy="118.8" r="3.05"/>
<circle cx="578.5" cy="111.3" r="3.05"/>
<circle cx="591.9" cy="101.4" r="3.05"/>
<circle cx="589.6" cy="104.4" r="3.05"/>
<circle cx="590.9" cy="101.5" r="3.05"/>
<circle cx="594.6" cy="102.6" r="3.05"/>
<circle cx="590.3" cy="105.8" r="3.05"/>
<circle cx="582.7" cy="110.8" r="3.05"/>
<circle cx="590.8" cy="103.3" r="3.05"/>
<circle cx="585.8" cy="106.1" r="3.05"/>
<circle cx="589.1" cy="105.8" r="3.05"/>
<circle cx="579.6" cy="110.2" r="3.05"/>
<circle cx="590.9" cy="103.2" r="3.05"/>
<circle cx="582.7" cy="108.5" r="3.05"/>
<circle cx="572.6" cy="116.4" r="3.05"/>
<circle cx="585.1" cy="110.0" r="3.05"/>
<circle cx="592.5" cy="103.9" r="3.05"/>
<circle cx="595.8" cy="100.5" r="3.05"/>
<circle cx="568.8" cy="119.7" r="3.05"/>
<circle cx="584.6" cy="105.1" r="3.05"/>
<circle cx="583.8" cy="108.5" r="3.05"/>
<circle cx="583.2" cy="106.9" r="3.05"/>
<circle cx="578.7" cy="111.8" r="3.05"/>
<circle cx="578.5" cy="113.9" r="3.05"/>
<circle cx="571.3" cy="116.5" r="3.05"/>
<circle cx="579.9" cy="109.6" r="3.05"/>
<circle cx="596.0" cy="99.6" r="3.05"/>
<circle cx="581.0" cy="107.4" r="3.05"/>
<circle cx="583.6" cy="105.6" r="3.05"/>
<circle cx="573.4" cy="114.3" r="3.05"/>
<circle cx="583.1" cy="111.9" r="3.05"/>
<circle cx="594.0" cy="100.7" r="3.05"/>
<circle cx="593.8" cy="99.6" r="3.05"/>
<circle cx="573.0" cy="115.6" r="3.05"/>
<circle cx="573.9" cy="116.7" r="3.05"/>
<circle cx="586.5" cy="105.7" r="3.05"/>
<circle cx="586.6" cy="105.8" r="3.05"/>
<circle cx="580.2" cy="111.2" r="3.05"/>
<circle cx="568.6" cy="118.3" r="3.05"/>
<circle cx="592.5" cy="101.0" r="3.05"/>
<circle cx="582.7" cy="108.3" r="3.05"/>
<circle cx="576.1" cy="112.9" r="3.05"/>
<circle cx="584.9" cy="106.5" r="3.05"/>
<circle cx="572.0" cy="117.7" r="3.05"/>
<circle cx="571.4" cy="118.6" r="3.05"/>
<circle cx="583.4" cy="109.5" r="3.05"/>
<circle cx="607.5" cy="97.4" r="3.05"/>
</g>
<g fill="#00BFC4">
<circle cx="429.5" cy="214.0" r="3.05"/>
<circle cx="435.2" cy="213.3" r="3.05"/>
<circle cx="430.4" cy="215.1" r="3.05"/>
<circle cx="429.8" cy="215.0" r="3.05"/>
<circle cx="432.6" cy="213.6" r="3.05"/>
<circle cx="429.4" cy="215.0" r="3.05"/>
<circle cx="432.5" cy="213.6" r="3.05"/>
<circle cx="431.0" cy="215.5" r="3.05"/>
<circle cx="431.5" cy="214.6" r="3.05"/>
<circle cx="435.5" cy="213.4" r="3.05"/>
<circle cx="433.0" cy="214.7" r="3.05"/>
<circle cx="430.9" cy="213.6" r="3.05"/>
<circle cx="431.5" cy="214.8" r="3.05"/>
<circle cx="432.9" cy="214.1" r="3.05"/>
<circle cx="431.9" cy="213.8" r="3.05"/>
<circle cx="436.8" cy="213.3" r="3.05"/>
<circle cx="433.3" cy="214.6" r="3.05"/>
<circle cx="432.2" cy="214.4" r="3.05"/>
<circle cx="431.8" cy="214.3" r="3.05"/>
<circle cx="430.5" cy="214.3" r="3.05"/>
<circle cx="434.3" cy="214.2" r="3.05"/>
<circle cx="430.2" cy="214.4" r="3.05"/>
<circle cx="435.7" cy="213.4" r="3.05"/>
<circle cx="432.5" cy="214.6" r="3.05"/>
<circle cx="431.8" cy="213.3" r="3.05"/>
<circle cx="432.0" cy="214.5" r="3.05"/>
<circle cx="433.0" cy="213.9" r="3.05"/>
<circle cx="432.6" cy="214.6" r="3.05"/>
<circle cx="436.2" cy="214.1" r="3.05"/>
<circle cx="431.9" cy="214.2" r="3.05"/>
<circle cx="436.0" cy="214.2" r="3.05"/>
<circle cx="433.1" cy="213.6" r="3.05"/>
<circle cx="432.1" cy="214.0" r="3.05"/>
<circle cx="433.5" cy="213.7" r="3.05"/>
<circle cx="430.4" cy="214.9" r="3.05"/>
<circle cx="441.6" cy="211.6" r="3.05"/>
<circle cx="441.9" cy="211.4" r="3.05"/>
<circle cx="441.4" cy="212.3" r="3.05"/>
<circle cx="440.0" cy="212.2" r="3.05"/>
<circle cx="441.3" cy="210.7" r="3.05"/>
<circle cx="446.1" cy="211.7" r="3.05"/>
<circle cx="440.1" cy="212.0" r="3.05"/>
<circle cx="444.3" cy="211.4" r="3.05"/>
<circle cx="442.3" cy="211.1" r="3.05"/>
<circle cx="445.8" cy="210.3" r="3.05"/>
<circle cx="444.0" cy="211.4" r="3.05"/>
<circle cx="444.9" cy="211.4" r="3.05"/>
<circle cx="439.3" cy="212.4" r="3.05"/>
<circle cx="441.4" cy="211.9" r="3.05"/>
<circle cx="439.3" cy="211.9" r="3.05"/>
<circle cx="445.7" cy="211.8" r="3.05"/>
<circle cx="444.7" cy="211.2" r="3.05"/>
<circle cx="441.8" cy="212.4" r="3.05"/>
<circle cx="445.7" cy="211.1" r="3.05"/>
<circle cx="445.8" cy="210.5" r="3.05"/>
<circle cx="439.4" cy="212.1" r="3.05"/>
<circle cx="440.7" cy="212.2" r="3.05"/>
<circle cx="445.0" cy="211.9" r="3.05"/>
<circle cx="445.0" cy="211.6" r="3.05"/>
<circle cx="441.2" cy="213.0" r="3.05"/>
<circle cx="446.4" cy="211.6" r="3.05"/>
<circle cx="444.9" cy="211.6" r="3.05"/>
<circle cx="439.4" cy="211.5" r="3.05"/>
<circle cx="442.4" cy="210.2" r="3.05"/>
<circle cx="445.1" cy="211.0" r="3.05"/>
<circle cx="444.6" cy="211.4" r="3.05"/>
<circle cx="446.8" cy="210.5" r="3.05"/>
<circle cx="443.4" cy="211.4" r="3.05"/>
<circle cx="442.3" cy="211.8" r="3.05"/>
<circle cx="441.5" cy="212.4" r="3.05"/>
<circle cx="440.9" cy="212.6" r="3.05"/>
<circle cx="443.1" cy="210.1" r="3.05"/>
<circle cx="441.4" cy="212.3" r="3.05"/>
<circle cx="440.1" cy="211.5" r="3.05"/>
<circle cx="443.4" cy="211.2" r="3.05"/>
<circle cx="460.6" cy="198.4" r="3.05"/>
<circle cx="475.3" cy="194.1" r="3.05"/>
<circle cx="459.3" cy="199.1" r="3.05"/>
<circle cx="458.0" cy="200.2" r="3.05"/>
<circle cx="461.3" cy="198.5" r="3.05"/>
<circle cx="464.4" cy="197.0" r="3.05"/>
<circle cx="465.4" cy="197.8" r="3.05"/>
<circle cx="480.8" cy="193.7" r="3.05"/>
<circle cx="458.6" cy="199.0" r="3.05"/>
<circle cx="459.2" cy="197.5" r="3.05"/>
<circle cx="467.1" cy="197.6" r="3.05"/>
<circle cx="479.0" cy="194.9" r="3.05"/>
<circle cx="471.9" cy="197.0" r="3.05"/>
<circle cx="462.5" cy="197.9" r="3.05"/>
<circle cx="457.2" cy="200.0" r="3.05"/>
<circle cx="461.1" cy="197.3" r="3.05"/>
<circle cx="477.2" cy="194.9" r="3.05"/>
<circle cx="476.8" cy="194.4" r="3.05"/>
<circle cx="464.5" cy="198.5" r="3.05"/>
<circle cx="465.5" cy="199.0" r="3.05"/>
<circle cx="465.5" cy="197.9" r="3.05"/>
<circle cx="470.4" cy="195.8" r="3.05"/>
<circle cx="476.6" cy="194.2" r="3.05"/>
<circle cx="468.6" cy="195.1" r="3.05"/>
<circle cx="460.4" cy="198.7" r="3.05"/>
<circle cx="473.4" cy="196.6" r="3.05"/>
<circle cx="467.4" cy="197.5" r="3.05"/>
<circle cx="467.3" cy="197.1" r="3.05"/>
<circle cx="474.2" cy="196.9" r="3.05"/>
<circle cx="475.8" cy="194.9" r="3.05"/>
<circle cx="463.4" cy="197.6" r="3.05"/>
<circle cx="464.8" cy="197.0" r="3.05"/>
<circle cx="472.8" cy="196.5" r="3.05"/>
<circle cx="463.7" cy="196.5" r="3.05"/>
<circle cx="470.3" cy="196.0" r="3.05"/>
<circle cx="464.4" cy="198.3" r="3.05"/>
<circle cx="480.3" cy="194.7" r="3.05"/>
<circle cx="480.1" cy="193.0" r="3.05"/>
<circle cx="476.4" cy="195.8" r="3.05"/>
<circle cx="463.8" cy="198.5" r="3.05"/>
<circle cx="479.8" cy="192.9" r="3.05"/>
<circle cx="464.9" cy="197.9" r="3.05"/>
<circle cx="457.2" cy="200.2" r="3.05"/>
<circle cx="458.6" cy="200.5" r="3.05"/>
<circle cx="465.6" cy="196.8" r="3.05"/>
<circle cx="470.3" cy="195.9" r="3.05"/>
<circle cx="459.3" cy="199.9" r="3.05"/>
<circle cx="459.3" cy="200.7" r="3.05"/>
<circle cx="462.7" cy="199.2" r="3.05"/>
<circle cx="468.5" cy="197.4" r="3.05"/>
<circle cx="462.1" cy="198.2" r="3.05"/>
<circle cx="470.9" cy="196.0" r="3.05"/>
<circle cx="466.5" cy="198.1" r="3.05"/>
<circle cx="470.0" cy="196.8" r="3.05"/>
<circle cx="475.0" cy="196.9" r="3.05"/>
<circle cx="459.0" cy="200.8" r="3.05"/>
<circle cx="466.1" cy="198.4" r="3.05"/>
<circle cx="475.5" cy="196.8" r="3.05"/>
<circle cx="475.5" cy="195.5" r="3.05"/>
<circle cx="456.9" cy="200.1" r="3.05"/>
<circle cx="461.7" cy="198.2" r="3.05"/>
<circle cx="478.3" cy="195.3" r="3.05"/>
<circle cx="477.9" cy="192.8" r="3.05"/>
<circle cx="460.6" cy="198.2" r="3.05"/>
<circle cx="464.9" cy="197.9" r="3.05"/>
<circle cx="459.5" cy="198.1" r="3.05"/>
<circle cx="474.6" cy="196.4" r="3.05"/>
<circle cx="471.3" cy="195.7" r="3.05"/>
<circle cx="469.9" cy="196.6" r="3.05"/>
<circle cx="473.0" cy="195.2" r="3.05"/>
<circle cx="461.2" cy="197.3" r="3.05"/>
<circle cx="459.3" cy="199.7" r="3.05"/>
<circle cx="459.2" cy="199.4" r="3.05"/>
<circle cx="463.6" cy="197.6" r="3.05"/>
<circle cx="465.8" cy="198.6" r="3.05"/>
<circle cx="473.4" cy="196.8" r="3.05"/>
<circle cx="479.7" cy="194.4" r="3.05"/>
<circle cx="468.8" cy="196.8" r="3.05"/>
<circle cx="476.1" cy="195.3" r="3.05"/>
<circle cx="473.1" cy="195.7" r="3.05"/>
<circle cx="468.2" cy="197.8" r="3.05"/>
<circle cx="477.9" cy="195.6" r="3.05"/>
<circle cx="458.4" cy="199.3" r="3.05"/>
<circle cx="470.9" cy="196.7" r="3.05"/>
<circle cx="460.7" cy="198.3" r="3.05"/>
<circle cx="466.0" cy="198.2" r="3.05"/>
<circle cx="456.6" cy="199.5" r="3.05"/>
<circle cx="467.8" cy="196.7" r="3.05"/>
<circle cx="457.6" cy="200.3" r="3.05"/>
<circle cx="463.2" cy="199.2" r="3.05"/>
<circle cx="462.9" cy="197.4" r="3.05"/>
<circle cx="480.8" cy="193.3" r="3.05"/>
<circle cx="470.2" cy="196.6" r="3.05"/>
<circle cx="472.0" cy="194.2" r="3.05"/>
<circle cx="465.4" cy="197.4" r="3.05"/>
<circle cx="479.5" cy="195.1" r="3.05"/>
<circle cx="463.9" cy="198.1" r="3.05"/>
<circle cx="472.1" cy="194.5" r="3.05"/>
<circle cx="470.0" cy="196.2" r="3.05"/>
<circle cx="464.4" cy="198.1" r="3.05"/>
<circle cx="468.3" cy="196.5" r="3.05"/>
<circle cx="465.1" cy="198.2" r="3.05"/>
<circle cx="456.7" cy="200.4" r="3.05"/>
<circle cx="470.4" cy="195.6" r="3.05"/>
<circle cx="460.6" cy="199.5" r="3.05"/>
<circle cx="474.3" cy="195.6" r="3.05"/>
<circle cx="479.5" cy="193.1" r="3.05"/>
<circle cx="458.5" cy="200.8" r="3.05"/>
<circle cx="470.7" cy="197.0" r="3.05"/>
<circle cx="467.0" cy="197.2" r="3.05"/>
<circle cx="458.2" cy="198.1" r="3.05"/>
<circle cx="462.8" cy="198.5" r="3.05"/>
<circle cx="460.5" cy="198.8" r="3.05"/>
<circle cx="466.3" cy="198.7" r="3.05"/>
<circle cx="471.3" cy="196.9" r="3.05"/>
<circle cx="474.5" cy="194.3" r="3.05"/>
<circle cx="471.2" cy="197.4" r="3.05"/>
<circle cx="464.9" cy="198.5" r="3.05"/>
<circle cx="461.1" cy="197.2" r="3.05"/>
<circle cx="479.1" cy="193.7" r="3.05"/>
<circle cx="502.1" cy="184.4" r="3.05"/>
<circle cx="507.5" cy="181.3" r="3.05"/>
<circle cx="497.9" cy="185.5" r="3.05"/>
<circle cx="502.2" cy="184.5" r="3.05"/>
<circle cx="506.3" cy="183.0" r="3.05"/>
<circle cx="511.3" cy="182.2" r="3.05"/>
<circle cx="512.3" cy="181.8" r="3.05"/>
<circle cx="502.1" cy="184.8" r="3.05"/>
<circle cx="499.4" cy="186.1" r="3.05"/>
<circle cx="509.6" cy="183.1" r="3.05"/>
<circle cx="505.3" cy="182.4" r="3.05"/>
<circle cx="506.3" cy="182.4" r="3.05"/>
<circle cx="508.5" cy="182.2" r="3.05"/>
<circle cx="509.0" cy="183.5" r="3.05"/>
<circle cx="509.0" cy="183.1" r="3.05"/>
<circle cx="505.1" cy="183.2" r="3.05"/>
<circle cx="499.0" cy="186.3" r="3.05"/>
<circle cx="509.0" cy="182.2" r="3.05"/>
<circle cx="512.3" cy="181.2" r="3.05"/>
<circle cx="497.4" cy="187.0" r="3.05"/>
<circle cx="497.9" cy="184.8" r="3.05"/>
<circle cx="511.6" cy="181.3" r="3.05"/>
<circle cx="499.3" cy="185.9" r="3.05"/>
<circle cx="499.5" cy="186.4" r="3.05"/>
<circle cx="509.1" cy="182.2" r="3.05"/>
<circle cx="506.9" cy="184.9" r="3.05"/>
<circle cx="509.4" cy="181.3" r="3.05"/>
<circle cx="498.7" cy="185.6" r="3.05"/>
<circle cx="498.0" cy="185.2" r="3.05"/>
<circle cx="497.9" cy="185.1" r="3.05"/>
<circle cx="503.4" cy="185.8" r="3.05"/>
<circle cx="500.5" cy="183.9" r="3.05"/>
<circle cx="501.1" cy="184.1" r="3.05"/>
<circle cx="508.8" cy="182.5" r="3.05"/>
<circle cx="501.6" cy="185.1" r="3.05"/>
<circle cx="499.4" cy="185.2" r="3.05"/>
<circle cx="510.5" cy="181.5" r="3.05"/>
<circle cx="501.4" cy="186.0" r="3.05"/>
<circle cx="504.5" cy="184.0" r="3.05"/>
<circle cx="506.3" cy="182.7" r="3.05"/>
<circle cx="506.0" cy="183.6" r="3.05"/>
<circle cx="502.6" cy="183.8" r="3.05"/>
<circle cx="510.4" cy="182.4" r="3.05"/>
<circle cx="501.6" cy="186.1" r="3.05"/>
<circle cx="498.7" cy="185.6" r="3.05"/>
<circle cx="499.3" cy="185.2" r="3.05"/>
<circle cx="498.5" cy="186.1" r="3.05"/>
<circle cx="502.3" cy="185.5" r="3.05"/>
<circle cx="508.1" cy="184.2" r="3.05"/>
<circle cx="500.6" cy="183.2" r="3.05"/>
<circle cx="507.7" cy="183.6" r="3.05"/>
<circle cx="503.7" cy="184.1" r="3.05"/>
<circle cx="497.3" cy="186.5" r="3.05"/>
<circle cx="498.9" cy="185.4" r="3.05"/>
<circle cx="499.1" cy="184.9" r="3.05"/>
<circle cx="499.3" cy="185.5" r="3.05"/>
<circle cx="504.8" cy="184.1" r="3.05"/>
<circle cx="511.2" cy="181.9" r="3.05"/>
<circle cx="500.3" cy="186.7" r="3.05"/>
<circle cx="501.2" cy="184.3" r="3.05"/>
<circle cx="576.4" cy="152.9" r="3.05"/>
<circle cx="580.4" cy="150.9" r="3.05"/>
<circle cx="579.2" cy="153.2" r="3.05"/>
<circle cx="584.2" cy="149.1" r="3.05"/>
<circle cx="588.3" cy="149.6" r="3.05"/>
<circle cx="580.2" cy="150.5" r="3.05"/>
<circle cx="580.7" cy="151.8" r="3.05"/>
<circle cx="580.5" cy="150.5" r="3.05"/>
<circle cx="597.0" cy="144.1" r="3.05"/>
<circle cx="576.1" cy="152.7" r="3.05"/>
<circle cx="579.6" cy="151.1" r="3.05"/>
<circle cx="592.6" cy="145.8" r="3.05"/>
<circle cx="594.4" cy="145.8" r="3.05"/>
<circle cx="587.1" cy="148.2" r="3.05"/>
<circle cx="577.8" cy="152.0" r="3.05"/>
<circle cx="592.9" cy="144.9" r="3.05"/>
<circle cx="585.6" cy="149.2" r="3.05"/>
<circle cx="589.8" cy="146.3" r="3.05"/>
<circle cx="588.9" cy="145.5" r="3.05"/>
<circle cx="588.0" cy="148.2" r="3.05"/>
<circle cx="586.6" cy="147.0" r="3.05"/>
<circle cx="576.4" cy="152.3" r="3.05"/>
<circle cx="582.3" cy="149.6" r="3.05"/>
<circle cx="575.2" cy="151.6" r="3.05"/>
<circle cx="595.0" cy="142.6" r="3.05"/>
<circle cx="591.8" cy="145.2" r="3.05"/>
<circle cx="573.8" cy="154.3" r="3.05"/>
<circle cx="592.2" cy="144.0" r="3.05"/>
<circle cx="593.3" cy="145.8" r="3.05"/>
<circle cx="591.9" cy="145.7" r="3.05"/>
<circle cx="573.3" cy="154.0" r="3.05"/>
<circle cx="591.5" cy="146.1" r="3.05"/>
<circle cx="581.7" cy="151.2" r="3.05"/>
<circle cx="588.5" cy="147.6" r="3.05"/>
<circle cx="582.4" cy="150.4" r="3.05"/>
<circle cx="588.0" cy="145.1" r="3.05"/>
<circle cx="583.6" cy="149.3" r="3.05"/>
<circle cx="579.7" cy="152.3" r="3.05"/>
<circle cx="574.6" cy="153.0" r="3.05"/>
<circle cx="589.1" cy="146.5" r="3.05"/>
<circle cx="578.1" cy="151.9" r="3.05"/>
<circle cx="586.8" cy="150.1" r="3.05"/>
<circle cx="574.6" cy="151.5" r="3.05"/>
<circle cx="579.4" cy="152.2" r="3.05"/>
<circle cx="581.4" cy="148.9" r="3.05"/>
<circle cx="580.4" cy="152.2" r="3.05"/>
<circle cx="591.7" cy="144.7" r="3.05"/>
<circle cx="594.9" cy="144.8" r="3.05"/>
<circle cx="596.2" cy="143.2" r="3.05"/>
<circle cx="578.2" cy="150.5" r="3.05"/>
<circle cx="590.2" cy="145.1" r="3.05"/>
<circle cx="594.2" cy="145.2" r="3.05"/>
<circle cx="569.7" cy="154.8" r="3.05"/>
<circle cx="592.5" cy="144.3" r="3.05"/>
<circle cx="582.3" cy="150.9" r="3.05"/>
<circle cx="583.3" cy="148.5" r="3.05"/>
<circle cx="587.8" cy="147.2" r="3.05"/>
<circle cx="588.0" cy="145.9" r="3.05"/>
<circle cx="590.5" cy="146.1" r="3.05"/>
<circle cx="571.2" cy="154.5" r="3.05"/>
<circle cx="571.8" cy="156.3" r="3.05"/>
<circle cx="570.5" cy="156.2" r="3.05"/>
<circle cx="588.9" cy="146.3" r="3.05"/>
<circle cx="580.7" cy="150.6" r="3.05"/>
<circle cx="596.9" cy="143.7" r="3.05"/>
<circle cx="578.4" cy="149.3" r="3.05"/>
<circle cx="569.2" cy="156.6" r="3.05"/>
<circle cx="577.8" cy="151.9" r="3.05"/>
<circle cx="593.0" cy="143.5" r="3.05"/>
<circle cx="570.4" cy="154.9" r="3.05"/>
<circle cx="593.3" cy="145.5" r="3.05"/>
<circle cx="574.7" cy="151.1" r="3.05"/>
<circle cx="584.0" cy="148.0" r="3.05"/>
<circle cx="585.3" cy="149.4" r="3.05"/>
<circle cx="591.4" cy="146.4" r="3.05"/>
<circle cx="570.4" cy="157.5" r="3.05"/>
<circle cx="583.9" cy="147.7" r="3.05"/>
<circle cx="576.7" cy="153.3" r="3.05"/>
<circle cx="577.2" cy="151.7" r="3.05"/>
<circle cx="581.7" cy="147.9" r="3.05"/>
<circle cx="581.5" cy="150.5" r="3.05"/>
<circle cx="586.9" cy="147.4" r="3.05"/>
<circle cx="593.2" cy="146.2" r="3.05"/>
<circle cx="594.8" cy="144.7" r="3.05"/>
<circle cx="591.4" cy="143.8" r="3.05"/>
<circle cx="577.3" cy="152.2" r="3.05"/>
<circle cx="592.5" cy="146.7" r="3.05"/>
<circle cx="571.8" cy="156.7" r="3.05"/>
<circle cx="591.0" cy="147.0" r="3.05"/>
<circle cx="576.2" cy="152.3" r="3.05"/>
<circle cx="588.2" cy="147.3" r="3.05"/>
<circle cx="570.2" cy="155.7" r="3.05"/>
<circle cx="577.2" cy="152.4" r="3.05"/>
<circle cx="584.7" cy="150.4" r="3.05"/>
<circle cx="594.5" cy="143.2" r="3.05"/>
<circle cx="591.4" cy="147.7" r="3.05"/>
<circle cx="580.0" cy="152.1" r="3.05"/>
<circle cx="575.3" cy="153.3" r="3.05"/>
<circle cx="571.6" cy="153.0" r="3.05"/>
<circle cx="588.0" cy="147.6" r="3.05"/>
<circle cx="592.2" cy="147.2" r="3.05"/>
<circle cx="595.3" cy="145.5" r="3.05"/>
<circle cx="577.1" cy="151.0" r="3.05"/>
<circle cx="595.0" cy="145.4" r="3.05"/>
<circle cx="582.6" cy="150.8" r="3.05"/>
<circle cx="571.5" cy="153.7" r="3.05"/>
<circle cx="576.6" cy="154.4" r="3.05"/>
<circle cx="594.9" cy="142.7" r="3.05"/>
<circle cx="585.8" cy="149.4" r="3.05"/>
<circle cx="587.4" cy="147.2" r="3.05"/>
<circle cx="607.5" cy="141.7" r="3.05"/>
</g>
<line x1="380" x2="618.75" y1="236.30" y2="236.30" stroke="#bebebe" stroke-width="1.65"/>
<line y1="90.5" y2="243.25" x1="390.50" x2="390.50" stroke="#bebebe" stroke-width="1.65"/>
<line x1="356.12" y1="258.30" x2="665.50" y2="60.30" stroke="#b8b8b8" stroke-width="1.5"/>
</g>
<rect x="380" y="90.5" width="238.75" height="152.75" fill="none" stroke="#7f7f7f" stroke-width="1.1"/>
<line x1="390.50" x2="390.50" y1="243.25" y2="249.25" stroke="#000" stroke-width="1.3"/>
<text x="390.50" y="264.6" font-size="14.2" text-anchor="middle">0.0</text>
<line x1="459.25" x2="459.25" y1="243.25" y2="249.25" stroke="#000" stroke-width="1.3"/>
<text x="459.25" y="264.6" font-size="14.2" text-anchor="middle">0.1</text>
<line x1="528.00" x2="528.00" y1="243.25" y2="249.25" stroke="#000" stroke-width="1.3"/>
<text x="528.00" y="264.6" font-size="14.2" text-anchor="middle">0.2</text>
<line x1="596.75" x2="596.75" y1="243.25" y2="249.25" stroke="#000" stroke-width="1.3"/>
<text x="596.75" y="264.6" font-size="14.2" text-anchor="middle">0.3</text>
<line y1="236.30" y2="236.30" x1="373.4" x2="380" stroke="#000" stroke-width="1.3"/>
<text x="368.40" y="241.60" font-size="14.2" text-anchor="end">0.0</text>
<line y1="192.30" y2="192.30" x1="373.4" x2="380" stroke="#000" stroke-width="1.3"/>
<text x="368.40" y="197.60" font-size="14.2" text-anchor="end">0.1</text>
<line y1="148.30" y2="148.30" x1="373.4" x2="380" stroke="#000" stroke-width="1.3"/>
<text x="368.40" y="153.60" font-size="14.2" text-anchor="end">0.2</text>
<line y1="104.30" y2="104.30" x1="373.4" x2="380" stroke="#000" stroke-width="1.3"/>
<text x="368.40" y="109.60" font-size="14.2" text-anchor="end">0.3</text>
<text x="499.38" y="284.2" font-size="17.95" text-anchor="middle">Gibbs std dev</text>
<text transform="translate(344.2,166.88) rotate(-90)" font-size="17.95" text-anchor="middle">estimates</text>
<text transform="translate(499.2,15.6) scale(0.89,1.03)" x="0" y="0" font-size="21.6" text-anchor="middle" style="font-family:'Liberation Serif', 'DejaVu Serif', serif;stroke-width:0.1px">Λ</text>
<text x="395.3" y="61.9" font-size="14.2" font-weight="bold">Method:</text>
<rect x="459.7" y="43.20" width="27.3" height="26.6" fill="#fff" stroke="#bdbdbd" stroke-width="1.25"/>
<circle cx="473.40" cy="56.60" r="2.9" fill="#F8766D"/>
<text x="490" y="61.9" font-size="14.2">LRVB</text>
<rect x="531.3" y="43.20" width="27.3" height="26.6" fill="#fff" stroke="#bdbdbd" stroke-width="1.25"/>
<circle cx="545.00" cy="56.60" r="2.9" fill="#00BFC4"/>
<text x="561.3" y="61.9" font-size="14.2">MFVB</text>
<clipPath id="c3"><rect x="65" y="427.5" width="222.2" height="143.75"/></clipPath>
<g clip-path="url(#c3)">
<line x1="101.85" x2="101.85" y1="427.5" y2="571.25" stroke="#f6f6f6" stroke-width="0.8"/>
<line x1="155.55" x2="155.55" y1="427.5" y2="571.25" stroke="#f6f6f6" stroke-width="0.8"/>
<line x1="209.25" x2="209.25" y1="427.5" y2="571.25" stroke="#f6f6f6" stroke-width="0.8"/>
<line x1="262.95" x2="262.95" y1="427.5" y2="571.25" stroke="#f6f6f6" stroke-width="0.8"/>
<line y1="547.25" y2="547.25" x1="65" x2="287.2" stroke="#f6f6f6" stroke-width="0.8"/>
<line y1="511.75" y2="511.75" x1="65" x2="287.2" stroke="#f6f6f6" stroke-width="0.8"/>
<line y1="476.25" y2="476.25" x1="65" x2="287.2" stroke="#f6f6f6" stroke-width="0.8"/>
<line y1="440.75" y2="440.75" x1="65" x2="287.2" stroke="#f6f6f6" stroke-width="0.8"/>
<line x1="75.00" x2="75.00" y1="427.5" y2="571.25" stroke="#e6e6e6" stroke-width="0.9"/>
<line x1="128.70" x2="128.70" y1="427.5" y2="571.25" stroke="#e6e6e6" stroke-width="0.9"/>
<line x1="182.40" x2="182.40" y1="427.5" y2="571.25" stroke="#e6e6e6" stroke-width="0.9"/>
<line x1="236.10" x2="236.10" y1="427.5" y2="571.25" stroke="#e6e6e6" stroke-width="0.9"/>
<line y1="565.00" y2="565.00" x1="65" x2="287.2" stroke="#e6e6e6" stroke-width="0.9"/>
<line y1="529.50" y2="529.50" x1="65" x2="287.2" stroke="#e6e6e6" stroke-width="0.9"/>
<line y1="494.00" y2="494.00" x1="65" x2="287.2" stroke="#e6e6e6" stroke-width="0.9"/>
<line y1="458.50" y2="458.50" x1="65" x2="287.2" stroke="#e6e6e6" stroke-width="0.9"/>
<g fill="#F8766D">
<circle cx="211.5" cy="473.4" r="3.05"/>
<circle cx="208.3" cy="476.4" r="3.05"/>
<circle cx="210.8" cy="476.7" r="3.05"/>
<circle cx="216.1" cy="473.3" r="3.05"/>
<circle cx="217.0" cy="471.6" r="3.05"/>
<circle cx="206.5" cy="476.9" r="3.05"/>
<circle cx="207.3" cy="475.3" r="3.05"/>
<circle cx="218.4" cy="470.6" r="3.05"/>
<circle cx="208.1" cy="477.4" r="3.05"/>
<circle cx="222.8" cy="468.8" r="3.05"/>
<circle cx="207.6" cy="478.9" r="3.05"/>
<circle cx="214.9" cy="474.8" r="3.05"/>
<circle cx="207.0" cy="475.8" r="3.05"/>
<circle cx="215.1" cy="473.0" r="3.05"/>
<circle cx="208.7" cy="475.0" r="3.05"/>
<circle cx="209.5" cy="476.1" r="3.05"/>
<circle cx="215.0" cy="473.1" r="3.05"/>
<circle cx="214.8" cy="472.8" r="3.05"/>
<circle cx="216.5" cy="471.8" r="3.05"/>
<circle cx="207.7" cy="475.3" r="3.05"/>
<circle cx="205.1" cy="476.3" r="3.05"/>
<circle cx="223.2" cy="470.2" r="3.05"/>
<circle cx="216.6" cy="472.3" r="3.05"/>
<circle cx="219.4" cy="473.0" r="3.05"/>
<circle cx="209.7" cy="471.8" r="3.05"/>
<circle cx="217.5" cy="469.1" r="3.05"/>
<circle cx="221.6" cy="468.3" r="3.05"/>
<circle cx="223.8" cy="470.9" r="3.05"/>
<circle cx="224.2" cy="467.4" r="3.05"/>
<circle cx="209.6" cy="476.2" r="3.05"/>
<circle cx="218.8" cy="472.0" r="3.05"/>
<circle cx="208.7" cy="477.0" r="3.05"/>
<circle cx="211.5" cy="478.3" r="3.05"/>
<circle cx="214.6" cy="472.3" r="3.05"/>
<circle cx="220.9" cy="472.3" r="3.05"/>
<circle cx="208.7" cy="474.4" r="3.05"/>
<circle cx="222.3" cy="469.7" r="3.05"/>
<circle cx="211.8" cy="473.7" r="3.05"/>
<circle cx="224.8" cy="467.4" r="3.05"/>
<circle cx="221.9" cy="467.5" r="3.05"/>
<circle cx="223.5" cy="468.8" r="3.05"/>
<circle cx="216.9" cy="469.0" r="3.05"/>
<circle cx="221.8" cy="470.4" r="3.05"/>
<circle cx="224.7" cy="465.9" r="3.05"/>
<circle cx="224.4" cy="471.1" r="3.05"/>
<circle cx="209.8" cy="478.1" r="3.05"/>
<circle cx="209.4" cy="476.1" r="3.05"/>
<circle cx="214.8" cy="474.6" r="3.05"/>
<circle cx="218.9" cy="470.7" r="3.05"/>
<circle cx="221.2" cy="468.5" r="3.05"/>
<circle cx="224.3" cy="469.2" r="3.05"/>
<circle cx="218.2" cy="470.0" r="3.05"/>
<circle cx="211.6" cy="472.0" r="3.05"/>
<circle cx="204.6" cy="476.7" r="3.05"/>
<circle cx="204.8" cy="479.2" r="3.05"/>
<circle cx="217.2" cy="473.7" r="3.05"/>
<circle cx="211.5" cy="474.8" r="3.05"/>
<circle cx="217.5" cy="473.2" r="3.05"/>
<circle cx="206.3" cy="476.7" r="3.05"/>
<circle cx="218.4" cy="473.8" r="3.05"/>
<circle cx="207.0" cy="476.4" r="3.05"/>
<circle cx="208.4" cy="475.6" r="3.05"/>
<circle cx="224.6" cy="467.8" r="3.05"/>
<circle cx="217.3" cy="472.7" r="3.05"/>
<circle cx="212.8" cy="470.2" r="3.05"/>
<circle cx="225.3" cy="468.1" r="3.05"/>
<circle cx="221.9" cy="470.6" r="3.05"/>
<circle cx="208.2" cy="477.7" r="3.05"/>
<circle cx="214.0" cy="473.8" r="3.05"/>
<circle cx="206.6" cy="475.8" r="3.05"/>
<circle cx="222.6" cy="467.9" r="3.05"/>
<circle cx="223.3" cy="468.9" r="3.05"/>
<circle cx="206.1" cy="476.0" r="3.05"/>
<circle cx="212.1" cy="473.0" r="3.05"/>
<circle cx="217.8" cy="470.2" r="3.05"/>
<circle cx="223.6" cy="470.1" r="3.05"/>
<circle cx="212.1" cy="474.8" r="3.05"/>
<circle cx="218.9" cy="471.0" r="3.05"/>
<circle cx="213.9" cy="473.4" r="3.05"/>
<circle cx="220.2" cy="467.1" r="3.05"/>
<circle cx="257.9" cy="447.4" r="3.05"/>
<circle cx="252.7" cy="450.4" r="3.05"/>
<circle cx="265.2" cy="442.6" r="3.05"/>
<circle cx="267.1" cy="440.6" r="3.05"/>
<circle cx="270.6" cy="437.8" r="3.05"/>
<circle cx="276.9" cy="436.6" r="3.05"/>
<circle cx="271.8" cy="437.0" r="3.05"/>
<circle cx="269.1" cy="437.7" r="3.05"/>
<circle cx="256.5" cy="446.6" r="3.05"/>
<circle cx="271.5" cy="439.6" r="3.05"/>
<circle cx="252.6" cy="444.4" r="3.05"/>
<circle cx="269.9" cy="438.3" r="3.05"/>
<circle cx="257.5" cy="446.3" r="3.05"/>
<circle cx="276.5" cy="435.6" r="3.05"/>
<circle cx="253.9" cy="445.4" r="3.05"/>
<circle cx="257.8" cy="448.5" r="3.05"/>
<circle cx="251.6" cy="447.9" r="3.05"/>
<circle cx="276.4" cy="436.6" r="3.05"/>
<circle cx="254.4" cy="448.1" r="3.05"/>
<circle cx="267.0" cy="439.2" r="3.05"/>
<circle cx="257.6" cy="446.5" r="3.05"/>
<circle cx="264.7" cy="443.6" r="3.05"/>
<circle cx="270.3" cy="438.2" r="3.05"/>
<circle cx="263.9" cy="443.3" r="3.05"/>
<circle cx="266.8" cy="440.1" r="3.05"/>
<circle cx="272.5" cy="440.1" r="3.05"/>
<circle cx="258.8" cy="445.6" r="3.05"/>
<circle cx="250.5" cy="448.2" r="3.05"/>
<circle cx="270.4" cy="437.7" r="3.05"/>
<circle cx="251.7" cy="446.6" r="3.05"/>
<circle cx="267.2" cy="442.3" r="3.05"/>
<circle cx="271.0" cy="437.7" r="3.05"/>
<circle cx="275.8" cy="435.6" r="3.05"/>
<circle cx="271.9" cy="436.2" r="3.05"/>
<circle cx="253.9" cy="448.2" r="3.05"/>
<circle cx="267.9" cy="438.2" r="3.05"/>
<circle cx="252.4" cy="447.3" r="3.05"/>
<circle cx="263.1" cy="442.7" r="3.05"/>
<circle cx="267.9" cy="438.2" r="3.05"/>
<circle cx="256.4" cy="444.8" r="3.05"/>
<circle cx="271.4" cy="438.4" r="3.05"/>
<circle cx="270.4" cy="437.6" r="3.05"/>
<circle cx="274.6" cy="438.3" r="3.05"/>
<circle cx="267.3" cy="438.4" r="3.05"/>
<circle cx="252.3" cy="447.0" r="3.05"/>
<circle cx="256.5" cy="443.1" r="3.05"/>
<circle cx="266.0" cy="441.3" r="3.05"/>
<circle cx="255.0" cy="445.1" r="3.05"/>
<circle cx="268.1" cy="442.5" r="3.05"/>
<circle cx="268.8" cy="438.8" r="3.05"/>
<circle cx="272.8" cy="437.1" r="3.05"/>
<circle cx="252.5" cy="447.7" r="3.05"/>
<circle cx="250.2" cy="447.1" r="3.05"/>
<circle cx="249.6" cy="449.6" r="3.05"/>
<circle cx="251.7" cy="448.3" r="3.05"/>
<circle cx="258.1" cy="447.0" r="3.05"/>
<circle cx="254.8" cy="446.7" r="3.05"/>
<circle cx="272.0" cy="436.6" r="3.05"/>
<circle cx="249.4" cy="449.2" r="3.05"/>
<circle cx="260.8" cy="442.9" r="3.05"/>
<circle cx="266.8" cy="439.9" r="3.05"/>
<circle cx="263.4" cy="439.9" r="3.05"/>
<circle cx="255.1" cy="449.8" r="3.05"/>
<circle cx="276.4" cy="432.3" r="3.05"/>
<circle cx="277.1" cy="436.2" r="3.05"/>
<circle cx="261.7" cy="443.7" r="3.05"/>
<circle cx="269.0" cy="437.7" r="3.05"/>
<circle cx="260.2" cy="444.1" r="3.05"/>
<circle cx="254.1" cy="446.6" r="3.05"/>
<circle cx="254.2" cy="444.8" r="3.05"/>
<circle cx="254.2" cy="446.5" r="3.05"/>
<circle cx="276.7" cy="436.8" r="3.05"/>
<circle cx="276.0" cy="437.5" r="3.05"/>
<circle cx="250.3" cy="447.6" r="3.05"/>
<circle cx="248.9" cy="450.6" r="3.05"/>
<circle cx="256.1" cy="443.7" r="3.05"/>
<circle cx="253.2" cy="443.9" r="3.05"/>
<circle cx="249.8" cy="445.9" r="3.05"/>
<circle cx="258.8" cy="446.7" r="3.05"/>
<circle cx="251.5" cy="446.5" r="3.05"/>
<circle cx="253.0" cy="447.6" r="3.05"/>
<circle cx="274.9" cy="434.5" r="3.05"/>
<circle cx="262.3" cy="442.9" r="3.05"/>
<circle cx="264.8" cy="440.5" r="3.05"/>
<circle cx="254.6" cy="446.5" r="3.05"/>
<circle cx="269.1" cy="439.4" r="3.05"/>
<circle cx="276.9" cy="433.3" r="3.05"/>
<circle cx="272.0" cy="438.6" r="3.05"/>
<circle cx="252.4" cy="448.7" r="3.05"/>
<circle cx="259.5" cy="444.1" r="3.05"/>
<circle cx="272.6" cy="437.7" r="3.05"/>
<circle cx="274.3" cy="434.8" r="3.05"/>
<circle cx="250.6" cy="447.7" r="3.05"/>
<circle cx="262.6" cy="444.5" r="3.05"/>
<circle cx="254.5" cy="446.7" r="3.05"/>
<circle cx="251.5" cy="451.3" r="3.05"/>
<circle cx="252.2" cy="448.3" r="3.05"/>
<circle cx="267.0" cy="441.9" r="3.05"/>
<circle cx="261.2" cy="445.5" r="3.05"/>
<circle cx="262.1" cy="443.7" r="3.05"/>
</g>
<g fill="#00BFC4">
<circle cx="218.6" cy="503.2" r="3.05"/>
<circle cx="219.0" cy="502.6" r="3.05"/>
<circle cx="207.5" cy="506.0" r="3.05"/>
<circle cx="209.5" cy="503.9" r="3.05"/>
<circle cx="209.3" cy="503.3" r="3.05"/>
<circle cx="217.8" cy="504.7" r="3.05"/>
<circle cx="205.3" cy="507.1" r="3.05"/>
<circle cx="205.3" cy="506.4" r="3.05"/>
<circle cx="209.5" cy="505.3" r="3.05"/>
<circle cx="224.0" cy="502.4" r="3.05"/>
<circle cx="223.8" cy="502.7" r="3.05"/>
<circle cx="220.4" cy="503.8" r="3.05"/>
<circle cx="224.9" cy="502.4" r="3.05"/>
<circle cx="207.9" cy="504.2" r="3.05"/>
<circle cx="206.7" cy="505.5" r="3.05"/>
<circle cx="204.5" cy="504.0" r="3.05"/>
<circle cx="216.2" cy="504.3" r="3.05"/>
<circle cx="217.0" cy="502.5" r="3.05"/>
<circle cx="206.1" cy="506.2" r="3.05"/>
<circle cx="212.8" cy="504.6" r="3.05"/>
<circle cx="220.1" cy="505.1" r="3.05"/>
<circle cx="214.1" cy="504.3" r="3.05"/>
<circle cx="218.2" cy="503.8" r="3.05"/>
<circle cx="225.0" cy="503.4" r="3.05"/>
<circle cx="211.9" cy="505.7" r="3.05"/>
<circle cx="222.3" cy="503.8" r="3.05"/>
<circle cx="212.2" cy="503.7" r="3.05"/>
<circle cx="217.2" cy="505.3" r="3.05"/>
<circle cx="220.6" cy="503.6" r="3.05"/>
<circle cx="219.0" cy="503.4" r="3.05"/>
<circle cx="215.4" cy="502.8" r="3.05"/>
<circle cx="218.1" cy="503.8" r="3.05"/>
<circle cx="219.9" cy="503.9" r="3.05"/>
<circle cx="219.6" cy="501.1" r="3.05"/>
<circle cx="218.8" cy="504.0" r="3.05"/>
<circle cx="208.3" cy="503.9" r="3.05"/>
<circle cx="213.8" cy="503.8" r="3.05"/>
<circle cx="211.8" cy="503.6" r="3.05"/>
<circle cx="206.5" cy="502.8" r="3.05"/>
<circle cx="224.1" cy="503.6" r="3.05"/>
<circle cx="222.1" cy="504.6" r="3.05"/>
<circle cx="209.7" cy="504.5" r="3.05"/>
<circle cx="204.9" cy="505.4" r="3.05"/>
<circle cx="211.4" cy="506.5" r="3.05"/>
<circle cx="220.8" cy="504.5" r="3.05"/>
<circle cx="206.7" cy="503.9" r="3.05"/>
<circle cx="211.1" cy="503.7" r="3.05"/>
<circle cx="224.8" cy="502.0" r="3.05"/>
<circle cx="215.6" cy="503.0" r="3.05"/>
<circle cx="213.1" cy="503.1" r="3.05"/>
<circle cx="219.0" cy="503.8" r="3.05"/>
<circle cx="210.5" cy="504.4" r="3.05"/>
<circle cx="204.8" cy="505.2" r="3.05"/>
<circle cx="208.2" cy="506.4" r="3.05"/>
<circle cx="218.9" cy="502.7" r="3.05"/>
<circle cx="209.7" cy="503.0" r="3.05"/>
<circle cx="205.1" cy="505.0" r="3.05"/>
<circle cx="224.8" cy="502.1" r="3.05"/>
<circle cx="216.9" cy="502.9" r="3.05"/>
<circle cx="210.9" cy="503.3" r="3.05"/>
<circle cx="205.9" cy="505.9" r="3.05"/>
<circle cx="206.9" cy="505.1" r="3.05"/>
<circle cx="224.9" cy="502.3" r="3.05"/>
<circle cx="208.2" cy="504.1" r="3.05"/>
<circle cx="210.9" cy="503.1" r="3.05"/>
<circle cx="219.8" cy="504.1" r="3.05"/>
<circle cx="224.1" cy="501.8" r="3.05"/>
<circle cx="221.9" cy="504.6" r="3.05"/>
<circle cx="222.5" cy="503.4" r="3.05"/>
<circle cx="204.7" cy="504.3" r="3.05"/>
<circle cx="268.0" cy="483.3" r="3.05"/>
<circle cx="262.7" cy="484.3" r="3.05"/>
<circle cx="251.6" cy="486.3" r="3.05"/>
<circle cx="262.5" cy="484.8" r="3.05"/>
<circle cx="253.3" cy="483.9" r="3.05"/>
<circle cx="251.3" cy="484.0" r="3.05"/>
<circle cx="256.3" cy="483.4" r="3.05"/>
<circle cx="253.9" cy="483.1" r="3.05"/>
<circle cx="259.7" cy="483.8" r="3.05"/>
<circle cx="254.6" cy="484.2" r="3.05"/>
<circle cx="264.9" cy="482.9" r="3.05"/>
<circle cx="256.8" cy="484.2" r="3.05"/>
<circle cx="262.3" cy="480.8" r="3.05"/>
<circle cx="262.8" cy="483.3" r="3.05"/>
<circle cx="253.5" cy="484.9" r="3.05"/>
<circle cx="258.4" cy="483.5" r="3.05"/>
<circle cx="250.5" cy="484.8" r="3.05"/>
<circle cx="253.5" cy="484.6" r="3.05"/>
<circle cx="251.0" cy="484.8" r="3.05"/>
<circle cx="268.6" cy="482.8" r="3.05"/>
<circle cx="250.0" cy="484.3" r="3.05"/>
<circle cx="267.2" cy="484.2" r="3.05"/>
<circle cx="266.9" cy="484.5" r="3.05"/>
<circle cx="253.7" cy="485.4" r="3.05"/>
<circle cx="267.1" cy="482.7" r="3.05"/>
<circle cx="268.4" cy="482.8" r="3.05"/>
<circle cx="264.2" cy="483.9" r="3.05"/>
<circle cx="252.9" cy="484.3" r="3.05"/>
<circle cx="256.3" cy="485.8" r="3.05"/>
<circle cx="252.4" cy="485.9" r="3.05"/>
<circle cx="262.5" cy="482.7" r="3.05"/>
<circle cx="264.4" cy="482.8" r="3.05"/>
<circle cx="253.5" cy="482.3" r="3.05"/>
<circle cx="251.6" cy="483.9" r="3.05"/>
<circle cx="268.8" cy="482.3" r="3.05"/>
<circle cx="267.9" cy="480.6" r="3.05"/>
<circle cx="253.4" cy="481.9" r="3.05"/>
<circle cx="253.2" cy="482.5" r="3.05"/>
<circle cx="257.9" cy="483.8" r="3.05"/>
<circle cx="261.0" cy="483.6" r="3.05"/>
<circle cx="257.1" cy="483.4" r="3.05"/>
<circle cx="253.5" cy="483.6" r="3.05"/>
<circle cx="259.5" cy="484.4" r="3.05"/>
<circle cx="261.9" cy="482.6" r="3.05"/>
<circle cx="266.4" cy="483.8" r="3.05"/>
<circle cx="253.4" cy="486.3" r="3.05"/>
<circle cx="255.4" cy="482.8" r="3.05"/>
<circle cx="249.0" cy="484.6" r="3.05"/>
<circle cx="252.0" cy="483.9" r="3.05"/>
<circle cx="254.0" cy="483.7" r="3.05"/>
<circle cx="260.6" cy="483.0" r="3.05"/>
<circle cx="251.1" cy="483.4" r="3.05"/>
<circle cx="251.7" cy="484.7" r="3.05"/>
<circle cx="267.6" cy="483.4" r="3.05"/>
<circle cx="253.5" cy="484.5" r="3.05"/>
<circle cx="257.3" cy="484.7" r="3.05"/>
<circle cx="262.7" cy="484.7" r="3.05"/>
<circle cx="268.8" cy="480.6" r="3.05"/>
<circle cx="249.6" cy="484.5" r="3.05"/>
<circle cx="254.7" cy="483.4" r="3.05"/>
<circle cx="269.3" cy="483.0" r="3.05"/>
<circle cx="266.7" cy="481.8" r="3.05"/>
<circle cx="262.5" cy="482.4" r="3.05"/>
<circle cx="262.6" cy="482.9" r="3.05"/>
<circle cx="265.7" cy="484.9" r="3.05"/>
<circle cx="250.1" cy="482.6" r="3.05"/>
<circle cx="260.8" cy="483.8" r="3.05"/>
<circle cx="253.6" cy="485.3" r="3.05"/>
<circle cx="259.8" cy="483.0" r="3.05"/>
<circle cx="261.9" cy="482.6" r="3.05"/>
<circle cx="274.6" cy="479.9" r="3.05"/>
<circle cx="274.6" cy="479.8" r="3.05"/>
<circle cx="274.3" cy="481.0" r="3.05"/>
<circle cx="270.3" cy="483.6" r="3.05"/>
<circle cx="277.4" cy="479.0" r="3.05"/>
<circle cx="276.8" cy="479.8" r="3.05"/>
<circle cx="275.2" cy="478.8" r="3.05"/>
<circle cx="269.3" cy="483.0" r="3.05"/>
<circle cx="270.1" cy="481.7" r="3.05"/>
<circle cx="272.0" cy="481.2" r="3.05"/>
<circle cx="268.8" cy="480.7" r="3.05"/>
<circle cx="271.5" cy="480.1" r="3.05"/>
<circle cx="272.3" cy="481.3" r="3.05"/>
<circle cx="274.6" cy="480.8" r="3.05"/>
<circle cx="271.6" cy="482.6" r="3.05"/>
<circle cx="274.3" cy="479.7" r="3.05"/>
<circle cx="274.9" cy="480.3" r="3.05"/>
<circle cx="270.9" cy="481.3" r="3.05"/>
<circle cx="276.1" cy="478.0" r="3.05"/>
<circle cx="273.8" cy="479.2" r="3.05"/>
<circle cx="268.1" cy="481.6" r="3.05"/>
<circle cx="268.7" cy="482.1" r="3.05"/>
<circle cx="269.7" cy="481.9" r="3.05"/>
<circle cx="270.6" cy="481.5" r="3.05"/>
<circle cx="277.7" cy="478.9" r="3.05"/>
<circle cx="277.5" cy="478.8" r="3.05"/>
<circle cx="271.3" cy="480.5" r="3.05"/>
<circle cx="272.7" cy="480.6" r="3.05"/>
</g>
<line x1="65" x2="287.2" y1="565.00" y2="565.00" stroke="#bebebe" stroke-width="1.65"/>
<line y1="427.5" y2="571.25" x1="75.00" x2="75.00" stroke="#bebebe" stroke-width="1.65"/>
<line x1="42.78" y1="586.30" x2="343.50" y2="387.50" stroke="#b8b8b8" stroke-width="1.5"/>
</g>
<rect x="65" y="427.5" width="222.2" height="143.75" fill="none" stroke="#7f7f7f" stroke-width="1.1"/>
<line x1="75.00" x2="75.00" y1="571.25" y2="577.25" stroke="#000" stroke-width="1.3"/>
<text x="75.00" y="593" font-size="14.2" text-anchor="middle">0.000</text>
<line x1="128.70" x2="128.70" y1="571.25" y2="577.25" stroke="#000" stroke-width="1.3"/>
<text x="128.70" y="593" font-size="14.2" text-anchor="middle">0.005</text>
<line x1="182.40" x2="182.40" y1="571.25" y2="577.25" stroke="#000" stroke-width="1.3"/>
<text x="182.40" y="593" font-size="14.2" text-anchor="middle">0.010</text>
<line x1="236.10" x2="236.10" y1="571.25" y2="577.25" stroke="#000" stroke-width="1.3"/>
<text x="236.10" y="593" font-size="14.2" text-anchor="middle">0.015</text>
<line y1="565.00" y2="565.00" x1="58.4" x2="65" stroke="#000" stroke-width="1.3"/>
<text x="53.40" y="570.30" font-size="14.2" text-anchor="end">0.000</text>
<line y1="529.50" y2="529.50" x1="58.4" x2="65" stroke="#000" stroke-width="1.3"/>
<text x="53.40" y="534.80" font-size="14.2" text-anchor="end">0.005</text>
<line y1="494.00" y2="494.00" x1="58.4" x2="65" stroke="#000" stroke-width="1.3"/>
<text x="53.40" y="499.30" font-size="14.2" text-anchor="end">0.010</text>
<line y1="458.50" y2="458.50" x1="58.4" x2="65" stroke="#000" stroke-width="1.3"/>
<text x="53.40" y="463.80" font-size="14.2" text-anchor="end">0.015</text>
<text x="176.10" y="612.4" font-size="17.95" text-anchor="middle">Gibbs std dev</text>
<text transform="translate(13.2,499.38) rotate(-90)" font-size="17.95" text-anchor="middle">estimates</text>
<text x="147.4" y="347.4" font-size="20.5">log</text>
<text x="176.0" y="346.6" font-size="25.5" style="font-family:'Liberation Serif', 'DejaVu Serif', serif">(</text>
<text transform="translate(184.0,347.4) scale(1.16,1)" x="0" y="0" font-size="24" style="font-family:'Liberation Serif', 'DejaVu Serif', serif;stroke-width:0">π</text>
<text x="196.3" y="346.6" font-size="25.5" style="font-family:'Liberation Serif', 'DejaVu Serif', serif">)</text>
<text x="72.3" y="398.1" font-size="14.2" font-weight="bold">Method:</text>
<rect x="136.8" y="379.40" width="27.3" height="26.6" fill="#fff" stroke="#bdbdbd" stroke-width="1.25"/>
<circle cx="150.50" cy="392.80" r="2.9" fill="#F8766D"/>
<text x="167.3" y="398.1" font-size="14.2">LRVB</text>
<rect x="208.6" y="379.40" width="27.3" height="26.6" fill="#fff" stroke="#bdbdbd" stroke-width="1.25"/>
<circle cx="222.30" cy="392.80" r="2.9" fill="#00BFC4"/>
<text x="238.6" y="398.1" font-size="14.2">MFVB</text>
<clipPath id="c4"><rect x="400.5" y="419.75" width="218.25" height="151.5"/></clipPath>
<g clip-path="url(#c4)">
<line x1="399.43" x2="399.43" y1="419.75" y2="571.25" stroke="#f6f6f6" stroke-width="0.8"/>
<line x1="440.18" x2="440.18" y1="419.75" y2="571.25" stroke="#f6f6f6" stroke-width="0.8"/>
<line x1="480.93" x2="480.93" y1="419.75" y2="571.25" stroke="#f6f6f6" stroke-width="0.8"/>
<line x1="521.67" x2="521.67" y1="419.75" y2="571.25" stroke="#f6f6f6" stroke-width="0.8"/>
<line x1="562.42" x2="562.42" y1="419.75" y2="571.25" stroke="#f6f6f6" stroke-width="0.8"/>
<line x1="603.17" x2="603.17" y1="419.75" y2="571.25" stroke="#f6f6f6" stroke-width="0.8"/>
<line y1="567.40" y2="567.40" x1="400.5" x2="618.75" stroke="#f6f6f6" stroke-width="0.8"/>
<line y1="540.68" y2="540.68" x1="400.5" x2="618.75" stroke="#f6f6f6" stroke-width="0.8"/>
<line y1="513.96" y2="513.96" x1="400.5" x2="618.75" stroke="#f6f6f6" stroke-width="0.8"/>
<line y1="487.24" y2="487.24" x1="400.5" x2="618.75" stroke="#f6f6f6" stroke-width="0.8"/>
<line y1="460.52" y2="460.52" x1="400.5" x2="618.75" stroke="#f6f6f6" stroke-width="0.8"/>
<line y1="433.80" y2="433.80" x1="400.5" x2="618.75" stroke="#f6f6f6" stroke-width="0.8"/>
<line x1="419.80" x2="419.80" y1="419.75" y2="571.25" stroke="#e6e6e6" stroke-width="0.9"/>
<line x1="460.55" x2="460.55" y1="419.75" y2="571.25" stroke="#e6e6e6" stroke-width="0.9"/>
<line x1="501.30" x2="501.30" y1="419.75" y2="571.25" stroke="#e6e6e6" stroke-width="0.9"/>
<line x1="542.05" x2="542.05" y1="419.75" y2="571.25" stroke="#e6e6e6" stroke-width="0.9"/>
<line x1="582.80" x2="582.80" y1="419.75" y2="571.25" stroke="#e6e6e6" stroke-width="0.9"/>
<line y1="554.04" y2="554.04" x1="400.5" x2="618.75" stroke="#e6e6e6" stroke-width="0.9"/>
<line y1="527.32" y2="527.32" x1="400.5" x2="618.75" stroke="#e6e6e6" stroke-width="0.9"/>
<line y1="500.60" y2="500.60" x1="400.5" x2="618.75" stroke="#e6e6e6" stroke-width="0.9"/>
<line y1="473.88" y2="473.88" x1="400.5" x2="618.75" stroke="#e6e6e6" stroke-width="0.9"/>
<line y1="447.16" y2="447.16" x1="400.5" x2="618.75" stroke="#e6e6e6" stroke-width="0.9"/>
<line y1="420.44" y2="420.44" x1="400.5" x2="618.75" stroke="#e6e6e6" stroke-width="0.9"/>
<g fill="#F8766D">
<circle cx="412.5" cy="560.7" r="3.05"/>
<circle cx="438.1" cy="542.8" r="3.05"/>
<circle cx="421.8" cy="554.0" r="3.05"/>
<circle cx="432.1" cy="541.6" r="3.05"/>
<circle cx="451.8" cy="532.4" r="3.05"/>
<circle cx="441.2" cy="539.7" r="3.05"/>
<circle cx="442.3" cy="539.9" r="3.05"/>
<circle cx="414.2" cy="563.8" r="3.05"/>
<circle cx="418.6" cy="553.3" r="3.05"/>
<circle cx="420.4" cy="548.0" r="3.05"/>
<circle cx="439.9" cy="539.6" r="3.05"/>
<circle cx="436.2" cy="542.7" r="3.05"/>
<circle cx="438.5" cy="541.9" r="3.05"/>
<circle cx="434.0" cy="546.9" r="3.05"/>
<circle cx="411.4" cy="559.1" r="3.05"/>
<circle cx="438.8" cy="539.8" r="3.05"/>
<circle cx="437.7" cy="543.8" r="3.05"/>
<circle cx="439.8" cy="539.9" r="3.05"/>
<circle cx="417.1" cy="556.7" r="3.05"/>
<circle cx="442.2" cy="543.5" r="3.05"/>
<circle cx="445.7" cy="536.3" r="3.05"/>
<circle cx="412.5" cy="561.7" r="3.05"/>
<circle cx="414.0" cy="561.8" r="3.05"/>
<circle cx="451.9" cy="533.7" r="3.05"/>
<circle cx="430.8" cy="547.3" r="3.05"/>
<circle cx="433.5" cy="546.4" r="3.05"/>
<circle cx="442.2" cy="535.2" r="3.05"/>
<circle cx="413.2" cy="557.3" r="3.05"/>
<circle cx="431.8" cy="546.1" r="3.05"/>
<circle cx="424.3" cy="555.7" r="3.05"/>
<circle cx="442.1" cy="539.7" r="3.05"/>
<circle cx="451.7" cy="531.1" r="3.05"/>
<circle cx="437.8" cy="544.5" r="3.05"/>
<circle cx="422.5" cy="554.4" r="3.05"/>
<circle cx="454.2" cy="532.4" r="3.05"/>
<circle cx="437.9" cy="541.5" r="3.05"/>
<circle cx="413.1" cy="558.5" r="3.05"/>
<circle cx="413.9" cy="551.9" r="3.05"/>
<circle cx="414.2" cy="558.8" r="3.05"/>
<circle cx="444.6" cy="537.6" r="3.05"/>
<circle cx="414.8" cy="559.2" r="3.05"/>
<circle cx="447.5" cy="536.5" r="3.05"/>
<circle cx="417.8" cy="555.7" r="3.05"/>
<circle cx="415.5" cy="553.2" r="3.05"/>
<circle cx="453.7" cy="533.0" r="3.05"/>
<circle cx="450.1" cy="535.3" r="3.05"/>
<circle cx="431.3" cy="550.3" r="3.05"/>
<circle cx="430.9" cy="545.7" r="3.05"/>
<circle cx="443.0" cy="539.9" r="3.05"/>
<circle cx="414.8" cy="559.0" r="3.05"/>
<circle cx="425.2" cy="550.5" r="3.05"/>
<circle cx="454.6" cy="532.8" r="3.05"/>
<circle cx="448.5" cy="534.7" r="3.05"/>
<circle cx="425.4" cy="552.1" r="3.05"/>
<circle cx="428.8" cy="550.7" r="3.05"/>
<circle cx="410.5" cy="553.7" r="3.05"/>
<circle cx="437.3" cy="547.8" r="3.05"/>
<circle cx="448.2" cy="532.2" r="3.05"/>
<circle cx="422.0" cy="550.6" r="3.05"/>
<circle cx="427.0" cy="551.5" r="3.05"/>
<circle cx="420.2" cy="556.6" r="3.05"/>
<circle cx="449.9" cy="533.1" r="3.05"/>
<circle cx="421.0" cy="558.4" r="3.05"/>
<circle cx="442.8" cy="536.9" r="3.05"/>
<circle cx="446.6" cy="536.4" r="3.05"/>
<circle cx="447.8" cy="539.0" r="3.05"/>
<circle cx="434.3" cy="541.9" r="3.05"/>
<circle cx="448.0" cy="539.1" r="3.05"/>
<circle cx="449.5" cy="537.8" r="3.05"/>
<circle cx="440.5" cy="545.0" r="3.05"/>
<circle cx="412.2" cy="562.1" r="3.05"/>
<circle cx="425.3" cy="547.6" r="3.05"/>
<circle cx="445.2" cy="538.5" r="3.05"/>
<circle cx="421.2" cy="551.5" r="3.05"/>
<circle cx="424.7" cy="556.3" r="3.05"/>
<circle cx="413.2" cy="559.4" r="3.05"/>
<circle cx="443.3" cy="539.5" r="3.05"/>
<circle cx="446.1" cy="539.2" r="3.05"/>
<circle cx="423.9" cy="546.9" r="3.05"/>
<circle cx="450.5" cy="530.6" r="3.05"/>
<circle cx="424.0" cy="554.1" r="3.05"/>
<circle cx="436.4" cy="540.7" r="3.05"/>
<circle cx="433.3" cy="542.3" r="3.05"/>
<circle cx="439.9" cy="541.1" r="3.05"/>
<circle cx="426.3" cy="544.8" r="3.05"/>
<circle cx="415.6" cy="563.3" r="3.05"/>
<circle cx="411.6" cy="556.2" r="3.05"/>
<circle cx="429.3" cy="546.1" r="3.05"/>
<circle cx="433.6" cy="547.1" r="3.05"/>
<circle cx="420.0" cy="548.7" r="3.05"/>
<circle cx="446.1" cy="537.7" r="3.05"/>
<circle cx="429.5" cy="553.6" r="3.05"/>
<circle cx="441.9" cy="541.0" r="3.05"/>
<circle cx="424.8" cy="549.9" r="3.05"/>
<circle cx="418.4" cy="551.2" r="3.05"/>
<circle cx="416.4" cy="555.1" r="3.05"/>
<circle cx="455.0" cy="527.7" r="3.05"/>
<circle cx="451.0" cy="532.2" r="3.05"/>
<circle cx="444.2" cy="539.6" r="3.05"/>
<circle cx="419.3" cy="552.1" r="3.05"/>
<circle cx="432.6" cy="550.5" r="3.05"/>
<circle cx="433.0" cy="541.8" r="3.05"/>
<circle cx="435.2" cy="546.3" r="3.05"/>
<circle cx="429.1" cy="551.2" r="3.05"/>
<circle cx="421.7" cy="552.3" r="3.05"/>
<circle cx="431.1" cy="549.6" r="3.05"/>
<circle cx="410.3" cy="557.2" r="3.05"/>
<circle cx="420.7" cy="557.8" r="3.05"/>
<circle cx="433.3" cy="546.9" r="3.05"/>
<circle cx="419.1" cy="558.5" r="3.05"/>
<circle cx="442.4" cy="539.2" r="3.05"/>
<circle cx="422.3" cy="547.4" r="3.05"/>
<circle cx="451.6" cy="537.9" r="3.05"/>
<circle cx="413.9" cy="560.6" r="3.05"/>
<circle cx="445.9" cy="536.4" r="3.05"/>
<circle cx="438.7" cy="540.3" r="3.05"/>
<circle cx="425.1" cy="550.8" r="3.05"/>
<circle cx="417.3" cy="553.2" r="3.05"/>
<circle cx="437.8" cy="541.7" r="3.05"/>
<circle cx="413.8" cy="559.9" r="3.05"/>
<circle cx="424.2" cy="549.2" r="3.05"/>
<circle cx="429.8" cy="547.4" r="3.05"/>
<circle cx="431.9" cy="549.1" r="3.05"/>
<circle cx="436.6" cy="542.0" r="3.05"/>
<circle cx="417.6" cy="560.1" r="3.05"/>
<circle cx="428.2" cy="550.6" r="3.05"/>
<circle cx="429.1" cy="545.2" r="3.05"/>
<circle cx="416.9" cy="560.1" r="3.05"/>
<circle cx="435.8" cy="548.8" r="3.05"/>
<circle cx="426.0" cy="550.2" r="3.05"/>
<circle cx="451.4" cy="531.5" r="3.05"/>
<circle cx="434.9" cy="545.8" r="3.05"/>
<circle cx="443.1" cy="540.1" r="3.05"/>
<circle cx="448.3" cy="534.9" r="3.05"/>
<circle cx="436.6" cy="542.0" r="3.05"/>
<circle cx="434.7" cy="542.0" r="3.05"/>
<circle cx="418.2" cy="560.4" r="3.05"/>
<circle cx="411.2" cy="564.8" r="3.05"/>
<circle cx="431.6" cy="543.6" r="3.05"/>
<circle cx="425.7" cy="550.2" r="3.05"/>
<circle cx="451.8" cy="531.5" r="3.05"/>
<circle cx="427.4" cy="546.4" r="3.05"/>
<circle cx="445.4" cy="537.1" r="3.05"/>
<circle cx="426.3" cy="552.7" r="3.05"/>
<circle cx="434.3" cy="544.2" r="3.05"/>
<circle cx="417.2" cy="558.7" r="3.05"/>
<circle cx="411.0" cy="560.3" r="3.05"/>
<circle cx="416.6" cy="557.2" r="3.05"/>
<circle cx="412.6" cy="558.3" r="3.05"/>
<circle cx="451.0" cy="537.1" r="3.05"/>
<circle cx="434.8" cy="545.3" r="3.05"/>
<circle cx="429.5" cy="547.1" r="3.05"/>
<circle cx="443.7" cy="539.9" r="3.05"/>
<circle cx="449.3" cy="533.0" r="3.05"/>
<circle cx="436.9" cy="543.6" r="3.05"/>
<circle cx="415.6" cy="556.7" r="3.05"/>
<circle cx="441.9" cy="538.7" r="3.05"/>
<circle cx="418.1" cy="553.9" r="3.05"/>
<circle cx="440.3" cy="543.0" r="3.05"/>
<circle cx="429.6" cy="547.1" r="3.05"/>
<circle cx="421.4" cy="553.9" r="3.05"/>
<circle cx="441.8" cy="545.5" r="3.05"/>
<circle cx="418.1" cy="556.9" r="3.05"/>
<circle cx="412.7" cy="561.4" r="3.05"/>
<circle cx="440.6" cy="543.0" r="3.05"/>
<circle cx="435.9" cy="544.1" r="3.05"/>
<circle cx="449.7" cy="532.9" r="3.05"/>
<circle cx="452.5" cy="531.5" r="3.05"/>
<circle cx="451.2" cy="532.4" r="3.05"/>
<circle cx="427.2" cy="548.5" r="3.05"/>
<circle cx="410.2" cy="562.4" r="3.05"/>
<circle cx="410.3" cy="554.3" r="3.05"/>
<circle cx="428.6" cy="546.4" r="3.05"/>
<circle cx="428.4" cy="545.0" r="3.05"/>
<circle cx="453.0" cy="534.8" r="3.05"/>
<circle cx="426.9" cy="547.6" r="3.05"/>
<circle cx="450.7" cy="534.8" r="3.05"/>
<circle cx="454.6" cy="527.8" r="3.05"/>
<circle cx="424.3" cy="551.2" r="3.05"/>
<circle cx="417.1" cy="553.2" r="3.05"/>
<circle cx="432.0" cy="545.0" r="3.05"/>
<circle cx="451.9" cy="537.7" r="3.05"/>
<circle cx="416.7" cy="556.4" r="3.05"/>
<circle cx="436.4" cy="539.7" r="3.05"/>
<circle cx="452.0" cy="536.0" r="3.05"/>
<circle cx="422.4" cy="555.2" r="3.05"/>
<circle cx="449.2" cy="531.5" r="3.05"/>
<circle cx="442.9" cy="540.3" r="3.05"/>
<circle cx="414.4" cy="552.0" r="3.05"/>
<circle cx="439.4" cy="541.3" r="3.05"/>
<circle cx="426.7" cy="555.9" r="3.05"/>
<circle cx="429.2" cy="544.5" r="3.05"/>
<circle cx="446.4" cy="536.7" r="3.05"/>
<circle cx="428.1" cy="545.4" r="3.05"/>
<circle cx="431.3" cy="550.0" r="3.05"/>
<circle cx="440.6" cy="543.2" r="3.05"/>
<circle cx="454.5" cy="528.1" r="3.05"/>
<circle cx="438.7" cy="540.6" r="3.05"/>
<circle cx="421.2" cy="553.4" r="3.05"/>
<circle cx="413.9" cy="557.1" r="3.05"/>
<circle cx="450.2" cy="536.5" r="3.05"/>
<circle cx="442.3" cy="539.8" r="3.05"/>
<circle cx="425.4" cy="552.1" r="3.05"/>
<circle cx="446.7" cy="535.8" r="3.05"/>
<circle cx="418.4" cy="552.0" r="3.05"/>
<circle cx="451.8" cy="533.0" r="3.05"/>
<circle cx="445.4" cy="537.3" r="3.05"/>
<circle cx="450.8" cy="538.4" r="3.05"/>
<circle cx="453.7" cy="532.2" r="3.05"/>
<circle cx="448.5" cy="532.1" r="3.05"/>
<circle cx="414.4" cy="562.9" r="3.05"/>
<circle cx="443.5" cy="536.2" r="3.05"/>
<circle cx="430.8" cy="550.0" r="3.05"/>
<circle cx="417.2" cy="548.0" r="3.05"/>
<circle cx="434.9" cy="542.8" r="3.05"/>
<circle cx="431.2" cy="547.6" r="3.05"/>
<circle cx="422.1" cy="549.8" r="3.05"/>
<circle cx="436.5" cy="545.6" r="3.05"/>
<circle cx="449.9" cy="530.6" r="3.05"/>
<circle cx="416.3" cy="562.7" r="3.05"/>
<circle cx="453.5" cy="530.0" r="3.05"/>
<circle cx="411.3" cy="562.6" r="3.05"/>
<circle cx="415.6" cy="555.8" r="3.05"/>
<circle cx="452.7" cy="535.3" r="3.05"/>
<circle cx="426.3" cy="553.9" r="3.05"/>
<circle cx="448.8" cy="534.0" r="3.05"/>
<circle cx="426.2" cy="547.8" r="3.05"/>
<circle cx="421.0" cy="551.6" r="3.05"/>
<circle cx="412.9" cy="563.0" r="3.05"/>
<circle cx="432.8" cy="545.7" r="3.05"/>
<circle cx="447.7" cy="534.1" r="3.05"/>
<circle cx="454.6" cy="528.5" r="3.05"/>
<circle cx="442.1" cy="540.2" r="3.05"/>
<circle cx="453.6" cy="531.9" r="3.05"/>
<circle cx="435.6" cy="546.5" r="3.05"/>
<circle cx="436.5" cy="543.2" r="3.05"/>
<circle cx="410.6" cy="560.7" r="3.05"/>
<circle cx="414.6" cy="559.5" r="3.05"/>
<circle cx="422.0" cy="555.4" r="3.05"/>
<circle cx="453.5" cy="530.3" r="3.05"/>
<circle cx="441.4" cy="544.1" r="3.05"/>
<circle cx="415.0" cy="559.9" r="3.05"/>
<circle cx="422.2" cy="554.3" r="3.05"/>
<circle cx="452.9" cy="533.9" r="3.05"/>
<circle cx="454.7" cy="529.1" r="3.05"/>
<circle cx="442.7" cy="536.6" r="3.05"/>
<circle cx="426.2" cy="551.8" r="3.05"/>
<circle cx="417.1" cy="554.3" r="3.05"/>
<circle cx="436.5" cy="543.6" r="3.05"/>
<circle cx="435.8" cy="542.0" r="3.05"/>
<circle cx="428.6" cy="547.8" r="3.05"/>
<circle cx="429.0" cy="547.9" r="3.05"/>
<circle cx="444.1" cy="538.4" r="3.05"/>
<circle cx="414.2" cy="564.2" r="3.05"/>
<circle cx="427.4" cy="546.4" r="3.05"/>
<circle cx="440.2" cy="544.4" r="3.05"/>
<circle cx="430.4" cy="540.6" r="3.05"/>
<circle cx="418.1" cy="555.0" r="3.05"/>
<circle cx="413.7" cy="557.3" r="3.05"/>
<circle cx="429.1" cy="549.1" r="3.05"/>
<circle cx="433.0" cy="547.3" r="3.05"/>
<circle cx="423.7" cy="550.5" r="3.05"/>
<circle cx="450.9" cy="533.0" r="3.05"/>
<circle cx="412.0" cy="555.5" r="3.05"/>
<circle cx="448.1" cy="534.7" r="3.05"/>
<circle cx="412.6" cy="557.1" r="3.05"/>
<circle cx="425.1" cy="554.6" r="3.05"/>
<circle cx="433.0" cy="548.2" r="3.05"/>
<circle cx="440.1" cy="537.3" r="3.05"/>
<circle cx="450.6" cy="535.1" r="3.05"/>
<circle cx="420.0" cy="552.2" r="3.05"/>
<circle cx="440.9" cy="541.2" r="3.05"/>
<circle cx="425.1" cy="550.1" r="3.05"/>
<circle cx="428.0" cy="553.0" r="3.05"/>
<circle cx="429.4" cy="548.4" r="3.05"/>
<circle cx="454.6" cy="531.9" r="3.05"/>
<circle cx="414.5" cy="553.5" r="3.05"/>
<circle cx="440.1" cy="540.7" r="3.05"/>
<circle cx="446.4" cy="535.2" r="3.05"/>
<circle cx="431.3" cy="552.9" r="3.05"/>
<circle cx="431.8" cy="549.2" r="3.05"/>
<circle cx="436.0" cy="546.3" r="3.05"/>
<circle cx="412.0" cy="557.7" r="3.05"/>
<circle cx="424.5" cy="545.5" r="3.05"/>
<circle cx="436.2" cy="542.8" r="3.05"/>
<circle cx="426.5" cy="546.9" r="3.05"/>
<circle cx="422.5" cy="555.7" r="3.05"/>
<circle cx="414.1" cy="557.3" r="3.05"/>
<circle cx="448.9" cy="534.1" r="3.05"/>
<circle cx="442.3" cy="538.2" r="3.05"/>
<circle cx="427.1" cy="549.1" r="3.05"/>
<circle cx="425.9" cy="549.8" r="3.05"/>
<circle cx="454.8" cy="529.3" r="3.05"/>
<circle cx="448.9" cy="539.3" r="3.05"/>
<circle cx="453.6" cy="528.8" r="3.05"/>
<circle cx="418.8" cy="548.3" r="3.05"/>
<circle cx="431.7" cy="544.8" r="3.05"/>
<circle cx="436.5" cy="545.3" r="3.05"/>
<circle cx="422.5" cy="548.5" r="3.05"/>
<circle cx="439.9" cy="540.8" r="3.05"/>
<circle cx="477.9" cy="515.7" r="3.05"/>
<circle cx="488.6" cy="509.9" r="3.05"/>
<circle cx="465.7" cy="525.6" r="3.05"/>
<circle cx="467.5" cy="522.0" r="3.05"/>
<circle cx="485.5" cy="511.3" r="3.05"/>
<circle cx="464.2" cy="523.3" r="3.05"/>
<circle cx="470.4" cy="520.4" r="3.05"/>
<circle cx="486.5" cy="510.9" r="3.05"/>
<circle cx="465.1" cy="524.9" r="3.05"/>
<circle cx="482.3" cy="511.9" r="3.05"/>
<circle cx="466.7" cy="524.6" r="3.05"/>
<circle cx="496.4" cy="503.9" r="3.05"/>
<circle cx="483.8" cy="513.4" r="3.05"/>
<circle cx="469.5" cy="520.9" r="3.05"/>
<circle cx="489.2" cy="508.5" r="3.05"/>
<circle cx="466.6" cy="521.6" r="3.05"/>
<circle cx="485.6" cy="511.9" r="3.05"/>
<circle cx="473.9" cy="517.2" r="3.05"/>
<circle cx="468.5" cy="523.0" r="3.05"/>
<circle cx="467.1" cy="522.9" r="3.05"/>
<circle cx="491.7" cy="506.5" r="3.05"/>
<circle cx="473.4" cy="521.0" r="3.05"/>
<circle cx="488.2" cy="509.0" r="3.05"/>
<circle cx="473.9" cy="519.0" r="3.05"/>
<circle cx="480.6" cy="514.2" r="3.05"/>
<circle cx="471.3" cy="520.5" r="3.05"/>
<circle cx="471.0" cy="520.6" r="3.05"/>
<circle cx="481.9" cy="512.6" r="3.05"/>
<circle cx="455.9" cy="529.2" r="3.05"/>
<circle cx="463.6" cy="523.3" r="3.05"/>
<circle cx="494.1" cy="505.4" r="3.05"/>
<circle cx="468.8" cy="523.7" r="3.05"/>
<circle cx="469.0" cy="520.6" r="3.05"/>
<circle cx="460.3" cy="525.6" r="3.05"/>
<circle cx="468.4" cy="521.0" r="3.05"/>
<circle cx="460.0" cy="528.5" r="3.05"/>
<circle cx="465.3" cy="524.9" r="3.05"/>
<circle cx="471.2" cy="519.6" r="3.05"/>
<circle cx="489.2" cy="508.7" r="3.05"/>
<circle cx="475.6" cy="516.6" r="3.05"/>
<circle cx="457.3" cy="528.4" r="3.05"/>
<circle cx="488.5" cy="509.3" r="3.05"/>
<circle cx="478.6" cy="514.2" r="3.05"/>
<circle cx="466.2" cy="525.4" r="3.05"/>
<circle cx="473.9" cy="519.1" r="3.05"/>
<circle cx="464.1" cy="524.9" r="3.05"/>
<circle cx="459.0" cy="529.8" r="3.05"/>
<circle cx="476.8" cy="517.2" r="3.05"/>
<circle cx="485.2" cy="509.5" r="3.05"/>
<circle cx="477.0" cy="516.3" r="3.05"/>
<circle cx="471.0" cy="521.1" r="3.05"/>
<circle cx="470.4" cy="520.2" r="3.05"/>
<circle cx="481.4" cy="513.0" r="3.05"/>
<circle cx="496.1" cy="503.9" r="3.05"/>
<circle cx="459.9" cy="526.5" r="3.05"/>
<circle cx="469.1" cy="520.3" r="3.05"/>
<circle cx="469.6" cy="518.4" r="3.05"/>
<circle cx="472.3" cy="521.2" r="3.05"/>
<circle cx="483.5" cy="511.8" r="3.05"/>
<circle cx="465.0" cy="522.9" r="3.05"/>
<circle cx="474.7" cy="518.6" r="3.05"/>
<circle cx="456.2" cy="528.5" r="3.05"/>
<circle cx="496.3" cy="503.7" r="3.05"/>
<circle cx="475.3" cy="516.1" r="3.05"/>
<circle cx="462.4" cy="524.5" r="3.05"/>
<circle cx="482.7" cy="511.8" r="3.05"/>
<circle cx="481.4" cy="514.2" r="3.05"/>
<circle cx="478.7" cy="516.5" r="3.05"/>
<circle cx="475.8" cy="516.9" r="3.05"/>
<circle cx="484.2" cy="511.6" r="3.05"/>
<circle cx="481.5" cy="513.8" r="3.05"/>
<circle cx="474.0" cy="517.0" r="3.05"/>
<circle cx="479.4" cy="515.0" r="3.05"/>
<circle cx="496.7" cy="503.4" r="3.05"/>
<circle cx="483.1" cy="513.4" r="3.05"/>
<circle cx="495.2" cy="504.9" r="3.05"/>
<circle cx="486.3" cy="510.3" r="3.05"/>
<circle cx="490.6" cy="508.5" r="3.05"/>
<circle cx="455.7" cy="532.1" r="3.05"/>
<circle cx="484.6" cy="511.0" r="3.05"/>
<circle cx="492.1" cy="506.9" r="3.05"/>
<circle cx="456.1" cy="534.2" r="3.05"/>
<circle cx="457.8" cy="531.4" r="3.05"/>
<circle cx="461.9" cy="527.5" r="3.05"/>
<circle cx="467.0" cy="525.9" r="3.05"/>
<circle cx="497.6" cy="502.9" r="3.05"/>
<circle cx="489.2" cy="508.3" r="3.05"/>
<circle cx="486.5" cy="511.8" r="3.05"/>
<circle cx="458.9" cy="530.4" r="3.05"/>
<circle cx="492.1" cy="506.4" r="3.05"/>
<circle cx="485.1" cy="510.0" r="3.05"/>
<circle cx="463.5" cy="526.1" r="3.05"/>
<circle cx="467.1" cy="522.9" r="3.05"/>
<circle cx="484.9" cy="510.0" r="3.05"/>
<circle cx="464.6" cy="525.4" r="3.05"/>
<circle cx="476.9" cy="519.1" r="3.05"/>
<circle cx="456.1" cy="530.3" r="3.05"/>
<circle cx="470.3" cy="518.7" r="3.05"/>
<circle cx="469.9" cy="520.9" r="3.05"/>
<circle cx="477.6" cy="514.7" r="3.05"/>
<circle cx="494.5" cy="504.7" r="3.05"/>
<circle cx="463.5" cy="525.7" r="3.05"/>
<circle cx="470.2" cy="521.2" r="3.05"/>
<circle cx="482.3" cy="512.7" r="3.05"/>
<circle cx="471.2" cy="519.5" r="3.05"/>
<circle cx="455.1" cy="530.2" r="3.05"/>
<circle cx="465.9" cy="524.7" r="3.05"/>
<circle cx="481.9" cy="512.4" r="3.05"/>
<circle cx="488.4" cy="508.7" r="3.05"/>
<circle cx="484.2" cy="513.3" r="3.05"/>
<circle cx="473.8" cy="517.3" r="3.05"/>
<circle cx="459.3" cy="524.2" r="3.05"/>
<circle cx="476.9" cy="517.0" r="3.05"/>
<circle cx="471.7" cy="520.7" r="3.05"/>
<circle cx="462.9" cy="524.9" r="3.05"/>
<circle cx="478.1" cy="515.5" r="3.05"/>
<circle cx="476.7" cy="516.9" r="3.05"/>
<circle cx="463.6" cy="525.1" r="3.05"/>
<circle cx="488.0" cy="508.7" r="3.05"/>
<circle cx="488.6" cy="508.6" r="3.05"/>
<circle cx="486.3" cy="510.6" r="3.05"/>
<circle cx="471.0" cy="522.2" r="3.05"/>
<circle cx="457.8" cy="527.3" r="3.05"/>
<circle cx="478.7" cy="514.3" r="3.05"/>
<circle cx="459.3" cy="530.0" r="3.05"/>
<circle cx="465.7" cy="521.3" r="3.05"/>
<circle cx="465.9" cy="525.3" r="3.05"/>
<circle cx="467.9" cy="523.4" r="3.05"/>
<circle cx="471.0" cy="521.0" r="3.05"/>
<circle cx="464.6" cy="522.2" r="3.05"/>
<circle cx="469.2" cy="523.3" r="3.05"/>
<circle cx="497.8" cy="503.0" r="3.05"/>
<circle cx="456.6" cy="530.0" r="3.05"/>
<circle cx="471.9" cy="518.6" r="3.05"/>
<circle cx="458.1" cy="531.0" r="3.05"/>
<circle cx="473.8" cy="518.2" r="3.05"/>
<circle cx="490.7" cy="507.2" r="3.05"/>
<circle cx="493.3" cy="505.9" r="3.05"/>
<circle cx="483.4" cy="511.5" r="3.05"/>
<circle cx="465.5" cy="523.4" r="3.05"/>
<circle cx="492.2" cy="506.9" r="3.05"/>
<circle cx="497.1" cy="503.5" r="3.05"/>
<circle cx="482.0" cy="512.2" r="3.05"/>
<circle cx="460.6" cy="524.8" r="3.05"/>
<circle cx="485.6" cy="510.8" r="3.05"/>
<circle cx="483.2" cy="511.9" r="3.05"/>
<circle cx="455.9" cy="528.7" r="3.05"/>
<circle cx="469.5" cy="521.9" r="3.05"/>
<circle cx="483.8" cy="511.7" r="3.05"/>
<circle cx="478.5" cy="517.3" r="3.05"/>
<circle cx="460.0" cy="527.6" r="3.05"/>
<circle cx="456.1" cy="529.5" r="3.05"/>
<circle cx="470.9" cy="521.1" r="3.05"/>
<circle cx="472.8" cy="520.4" r="3.05"/>
<circle cx="477.5" cy="515.4" r="3.05"/>
<circle cx="473.7" cy="521.5" r="3.05"/>
<circle cx="496.7" cy="503.5" r="3.05"/>
<circle cx="471.9" cy="521.5" r="3.05"/>
<circle cx="467.0" cy="523.4" r="3.05"/>
<circle cx="492.6" cy="506.4" r="3.05"/>
<circle cx="473.9" cy="518.6" r="3.05"/>
<circle cx="477.3" cy="515.5" r="3.05"/>
<circle cx="495.4" cy="504.7" r="3.05"/>
<circle cx="472.9" cy="518.7" r="3.05"/>
<circle cx="474.1" cy="519.3" r="3.05"/>
<circle cx="485.5" cy="510.6" r="3.05"/>
<circle cx="494.7" cy="505.1" r="3.05"/>
<circle cx="455.8" cy="531.5" r="3.05"/>
<circle cx="460.4" cy="527.1" r="3.05"/>
<circle cx="464.6" cy="524.7" r="3.05"/>
<circle cx="458.9" cy="529.2" r="3.05"/>
<circle cx="490.3" cy="508.4" r="3.05"/>
<circle cx="465.8" cy="524.0" r="3.05"/>
<circle cx="486.9" cy="511.2" r="3.05"/>
<circle cx="495.6" cy="504.0" r="3.05"/>
<circle cx="459.3" cy="529.4" r="3.05"/>
<circle cx="484.8" cy="510.4" r="3.05"/>
<circle cx="476.4" cy="516.0" r="3.05"/>
<circle cx="473.8" cy="518.3" r="3.05"/>
<circle cx="466.8" cy="525.1" r="3.05"/>
<circle cx="458.7" cy="529.2" r="3.05"/>
<circle cx="459.9" cy="525.8" r="3.05"/>
<circle cx="476.7" cy="516.6" r="3.05"/>
<circle cx="493.4" cy="505.5" r="3.05"/>
<circle cx="497.2" cy="503.8" r="3.05"/>
<circle cx="466.1" cy="520.8" r="3.05"/>
<circle cx="481.3" cy="514.6" r="3.05"/>
<circle cx="489.8" cy="509.3" r="3.05"/>
<circle cx="458.4" cy="529.5" r="3.05"/>
<circle cx="481.5" cy="513.2" r="3.05"/>
<circle cx="474.9" cy="517.8" r="3.05"/>
<circle cx="459.5" cy="527.2" r="3.05"/>
<circle cx="482.9" cy="512.6" r="3.05"/>
<circle cx="496.3" cy="503.8" r="3.05"/>
<circle cx="473.3" cy="517.7" r="3.05"/>
<circle cx="483.0" cy="513.5" r="3.05"/>
<circle cx="479.5" cy="514.3" r="3.05"/>
<circle cx="496.5" cy="503.7" r="3.05"/>
<circle cx="497.7" cy="502.6" r="3.05"/>
<circle cx="486.9" cy="510.3" r="3.05"/>
<circle cx="516.6" cy="490.8" r="3.05"/>
<circle cx="513.3" cy="492.3" r="3.05"/>
<circle cx="502.9" cy="499.3" r="3.05"/>
<circle cx="514.6" cy="492.2" r="3.05"/>
<circle cx="499.7" cy="501.8" r="3.05"/>
<circle cx="503.4" cy="499.5" r="3.05"/>
<circle cx="499.4" cy="501.8" r="3.05"/>
<circle cx="503.2" cy="499.2" r="3.05"/>
<circle cx="502.7" cy="499.7" r="3.05"/>
<circle cx="505.6" cy="498.0" r="3.05"/>
<circle cx="496.3" cy="504.0" r="3.05"/>
<circle cx="517.1" cy="490.0" r="3.05"/>
<circle cx="501.6" cy="500.5" r="3.05"/>
<circle cx="508.8" cy="495.7" r="3.05"/>
<circle cx="501.4" cy="500.4" r="3.05"/>
<circle cx="517.8" cy="490.4" r="3.05"/>
<circle cx="498.7" cy="502.3" r="3.05"/>
<circle cx="513.8" cy="492.4" r="3.05"/>
<circle cx="508.1" cy="496.2" r="3.05"/>
<circle cx="501.8" cy="500.1" r="3.05"/>
<circle cx="500.2" cy="501.2" r="3.05"/>
<circle cx="509.8" cy="494.7" r="3.05"/>
<circle cx="516.3" cy="490.9" r="3.05"/>
<circle cx="516.4" cy="490.4" r="3.05"/>
<circle cx="498.2" cy="502.4" r="3.05"/>
<circle cx="510.2" cy="495.1" r="3.05"/>
<circle cx="516.6" cy="490.6" r="3.05"/>
<circle cx="512.7" cy="492.9" r="3.05"/>
<circle cx="498.4" cy="502.2" r="3.05"/>
<circle cx="511.0" cy="493.9" r="3.05"/>
<circle cx="498.8" cy="502.4" r="3.05"/>
<circle cx="516.9" cy="490.6" r="3.05"/>
<circle cx="505.8" cy="497.7" r="3.05"/>
<circle cx="517.4" cy="489.7" r="3.05"/>
<circle cx="497.7" cy="502.9" r="3.05"/>
<circle cx="505.1" cy="498.1" r="3.05"/>
<circle cx="505.1" cy="498.4" r="3.05"/>
<circle cx="501.2" cy="500.3" r="3.05"/>
<circle cx="506.8" cy="496.7" r="3.05"/>
<circle cx="503.1" cy="499.6" r="3.05"/>
<circle cx="517.9" cy="489.8" r="3.05"/>
<circle cx="498.1" cy="502.9" r="3.05"/>
<circle cx="505.3" cy="498.2" r="3.05"/>
<circle cx="514.4" cy="491.7" r="3.05"/>
<circle cx="508.8" cy="495.9" r="3.05"/>
<circle cx="509.7" cy="495.1" r="3.05"/>
<circle cx="507.9" cy="496.0" r="3.05"/>
<circle cx="498.2" cy="502.8" r="3.05"/>
<circle cx="513.6" cy="492.4" r="3.05"/>
<circle cx="515.2" cy="491.4" r="3.05"/>
<circle cx="512.7" cy="493.6" r="3.05"/>
<circle cx="502.1" cy="500.2" r="3.05"/>
<circle cx="514.2" cy="492.3" r="3.05"/>
<circle cx="504.3" cy="498.5" r="3.05"/>
<circle cx="512.7" cy="492.9" r="3.05"/>
<circle cx="516.4" cy="490.5" r="3.05"/>
<circle cx="516.1" cy="490.3" r="3.05"/>
<circle cx="506.1" cy="497.1" r="3.05"/>
<circle cx="512.0" cy="493.9" r="3.05"/>
<circle cx="510.0" cy="494.9" r="3.05"/>
<circle cx="511.5" cy="493.9" r="3.05"/>
<circle cx="515.3" cy="491.4" r="3.05"/>
<circle cx="513.4" cy="493.0" r="3.05"/>
<circle cx="501.2" cy="500.7" r="3.05"/>
<circle cx="501.0" cy="500.7" r="3.05"/>
<circle cx="503.2" cy="499.1" r="3.05"/>
<circle cx="517.0" cy="490.4" r="3.05"/>
<circle cx="507.4" cy="496.0" r="3.05"/>
<circle cx="503.6" cy="499.1" r="3.05"/>
<circle cx="513.0" cy="492.8" r="3.05"/>
<circle cx="518.6" cy="487.2" r="3.05"/>
<circle cx="522.9" cy="486.8" r="3.05"/>
<circle cx="529.9" cy="477.7" r="3.05"/>
<circle cx="527.9" cy="481.5" r="3.05"/>
<circle cx="522.0" cy="485.0" r="3.05"/>
<circle cx="521.7" cy="487.7" r="3.05"/>
<circle cx="533.2" cy="482.2" r="3.05"/>
<circle cx="524.5" cy="486.5" r="3.05"/>
<circle cx="542.3" cy="475.4" r="3.05"/>
<circle cx="542.8" cy="475.2" r="3.05"/>
<circle cx="541.0" cy="476.5" r="3.05"/>
<circle cx="547.5" cy="470.1" r="3.05"/>
<circle cx="543.0" cy="476.7" r="3.05"/>
<circle cx="538.5" cy="476.4" r="3.05"/>
<circle cx="535.0" cy="478.8" r="3.05"/>
<circle cx="522.1" cy="486.6" r="3.05"/>
<circle cx="544.7" cy="474.3" r="3.05"/>
<circle cx="521.7" cy="487.8" r="3.05"/>
<circle cx="541.0" cy="475.7" r="3.05"/>
<circle cx="541.1" cy="476.9" r="3.05"/>
<circle cx="542.5" cy="475.9" r="3.05"/>
<circle cx="544.4" cy="475.2" r="3.05"/>
<circle cx="520.2" cy="486.5" r="3.05"/>
<circle cx="520.5" cy="485.9" r="3.05"/>
<circle cx="537.9" cy="479.1" r="3.05"/>
<circle cx="518.9" cy="486.5" r="3.05"/>
<circle cx="525.3" cy="484.6" r="3.05"/>
<circle cx="534.0" cy="476.6" r="3.05"/>
<circle cx="521.8" cy="484.9" r="3.05"/>
<circle cx="540.2" cy="477.7" r="3.05"/>
<circle cx="527.8" cy="482.0" r="3.05"/>
<circle cx="532.4" cy="484.1" r="3.05"/>
<circle cx="545.6" cy="475.9" r="3.05"/>
<circle cx="543.9" cy="473.6" r="3.05"/>
<circle cx="525.8" cy="485.2" r="3.05"/>
<circle cx="522.7" cy="486.2" r="3.05"/>
<circle cx="547.7" cy="470.9" r="3.05"/>
<circle cx="544.8" cy="474.4" r="3.05"/>
<circle cx="521.7" cy="484.4" r="3.05"/>
<circle cx="537.8" cy="475.0" r="3.05"/>
<circle cx="533.4" cy="479.3" r="3.05"/>
<circle cx="545.4" cy="476.1" r="3.05"/>
<circle cx="545.8" cy="468.5" r="3.05"/>
<circle cx="545.6" cy="474.5" r="3.05"/>
<circle cx="544.2" cy="469.0" r="3.05"/>
<circle cx="543.4" cy="478.4" r="3.05"/>
<circle cx="529.2" cy="482.5" r="3.05"/>
<circle cx="532.1" cy="479.4" r="3.05"/>
<circle cx="523.9" cy="485.4" r="3.05"/>
<circle cx="547.3" cy="469.9" r="3.05"/>
<circle cx="529.3" cy="480.0" r="3.05"/>
<circle cx="546.4" cy="474.7" r="3.05"/>
<circle cx="529.0" cy="482.6" r="3.05"/>
<circle cx="535.5" cy="479.3" r="3.05"/>
<circle cx="547.5" cy="471.3" r="3.05"/>
<circle cx="523.2" cy="485.7" r="3.05"/>
<circle cx="535.7" cy="476.6" r="3.05"/>
<circle cx="527.5" cy="482.4" r="3.05"/>
<circle cx="531.4" cy="483.2" r="3.05"/>
<circle cx="519.6" cy="486.7" r="3.05"/>
<circle cx="528.4" cy="483.1" r="3.05"/>
<circle cx="541.4" cy="471.1" r="3.05"/>
<circle cx="534.1" cy="478.9" r="3.05"/>
<circle cx="538.0" cy="477.4" r="3.05"/>
<circle cx="529.4" cy="484.7" r="3.05"/>
<circle cx="520.0" cy="485.6" r="3.05"/>
<circle cx="537.6" cy="477.8" r="3.05"/>
<circle cx="519.0" cy="487.4" r="3.05"/>
<circle cx="536.8" cy="477.7" r="3.05"/>
<circle cx="523.6" cy="486.3" r="3.05"/>
<circle cx="542.5" cy="471.8" r="3.05"/>
<circle cx="542.2" cy="476.5" r="3.05"/>
<circle cx="537.6" cy="475.6" r="3.05"/>
<circle cx="547.2" cy="474.4" r="3.05"/>
<circle cx="534.0" cy="479.0" r="3.05"/>
<circle cx="524.9" cy="483.6" r="3.05"/>
<circle cx="518.4" cy="485.8" r="3.05"/>
<circle cx="539.6" cy="478.3" r="3.05"/>
<circle cx="525.0" cy="483.8" r="3.05"/>
<circle cx="528.5" cy="481.0" r="3.05"/>
<circle cx="535.2" cy="481.3" r="3.05"/>
<circle cx="547.6" cy="468.4" r="3.05"/>
<circle cx="544.3" cy="477.1" r="3.05"/>
<circle cx="541.1" cy="476.5" r="3.05"/>
<circle cx="524.2" cy="484.9" r="3.05"/>
<circle cx="532.7" cy="477.9" r="3.05"/>
<circle cx="541.1" cy="476.5" r="3.05"/>
<circle cx="525.8" cy="485.4" r="3.05"/>
<circle cx="540.9" cy="474.5" r="3.05"/>
<circle cx="538.1" cy="475.7" r="3.05"/>
<circle cx="534.1" cy="476.9" r="3.05"/>
<circle cx="527.3" cy="481.4" r="3.05"/>
<circle cx="520.9" cy="485.1" r="3.05"/>
<circle cx="523.2" cy="486.9" r="3.05"/>
<circle cx="521.5" cy="485.9" r="3.05"/>
<circle cx="525.6" cy="483.0" r="3.05"/>
<circle cx="526.1" cy="486.3" r="3.05"/>
<circle cx="540.5" cy="472.7" r="3.05"/>
<circle cx="534.8" cy="479.0" r="3.05"/>
<circle cx="518.4" cy="489.5" r="3.05"/>
<circle cx="527.6" cy="483.3" r="3.05"/>
<circle cx="518.7" cy="488.2" r="3.05"/>
<circle cx="527.3" cy="486.5" r="3.05"/>
<circle cx="524.4" cy="484.7" r="3.05"/>
<circle cx="529.0" cy="482.9" r="3.05"/>
<circle cx="535.3" cy="479.8" r="3.05"/>
<circle cx="527.2" cy="480.2" r="3.05"/>
<circle cx="528.3" cy="482.0" r="3.05"/>
<circle cx="541.7" cy="473.2" r="3.05"/>
<circle cx="522.0" cy="485.1" r="3.05"/>
<circle cx="536.2" cy="482.3" r="3.05"/>
<circle cx="519.0" cy="488.4" r="3.05"/>
<circle cx="525.1" cy="481.2" r="3.05"/>
<circle cx="532.9" cy="479.3" r="3.05"/>
<circle cx="523.8" cy="483.7" r="3.05"/>
<circle cx="523.6" cy="483.7" r="3.05"/>
<circle cx="519.2" cy="486.9" r="3.05"/>
<circle cx="533.8" cy="480.6" r="3.05"/>
<circle cx="541.8" cy="478.2" r="3.05"/>
<circle cx="521.8" cy="486.8" r="3.05"/>
<circle cx="540.9" cy="470.9" r="3.05"/>
<circle cx="529.9" cy="482.4" r="3.05"/>
<circle cx="528.3" cy="485.9" r="3.05"/>
<circle cx="534.4" cy="478.5" r="3.05"/>
<circle cx="521.5" cy="487.1" r="3.05"/>
<circle cx="536.0" cy="475.6" r="3.05"/>
<circle cx="546.8" cy="476.0" r="3.05"/>
<circle cx="527.5" cy="484.6" r="3.05"/>
<circle cx="530.3" cy="481.4" r="3.05"/>
<circle cx="529.5" cy="481.3" r="3.05"/>
<circle cx="532.1" cy="481.1" r="3.05"/>
<circle cx="518.8" cy="486.5" r="3.05"/>
<circle cx="520.4" cy="487.5" r="3.05"/>
<circle cx="547.2" cy="470.6" r="3.05"/>
<circle cx="546.7" cy="475.9" r="3.05"/>
<circle cx="536.2" cy="480.1" r="3.05"/>
<circle cx="545.7" cy="470.9" r="3.05"/>
<circle cx="526.3" cy="484.3" r="3.05"/>
<circle cx="545.7" cy="473.6" r="3.05"/>
<circle cx="547.8" cy="473.0" r="3.05"/>
<circle cx="524.3" cy="486.4" r="3.05"/>
<circle cx="535.5" cy="482.3" r="3.05"/>
<circle cx="530.4" cy="481.5" r="3.05"/>
<circle cx="519.7" cy="486.8" r="3.05"/>
<circle cx="521.1" cy="488.3" r="3.05"/>
<circle cx="519.3" cy="486.5" r="3.05"/>
<circle cx="532.8" cy="479.1" r="3.05"/>
<circle cx="542.1" cy="475.6" r="3.05"/>
<circle cx="544.3" cy="472.8" r="3.05"/>
<circle cx="531.8" cy="481.4" r="3.05"/>
<circle cx="535.1" cy="480.9" r="3.05"/>
<circle cx="547.7" cy="471.3" r="3.05"/>
<circle cx="518.5" cy="487.0" r="3.05"/>
<circle cx="530.5" cy="482.7" r="3.05"/>
<circle cx="545.6" cy="469.2" r="3.05"/>
<circle cx="539.9" cy="477.0" r="3.05"/>
<circle cx="527.0" cy="482.9" r="3.05"/>
<circle cx="535.9" cy="477.2" r="3.05"/>
<circle cx="523.0" cy="483.7" r="3.05"/>
<circle cx="547.3" cy="475.8" r="3.05"/>
<circle cx="524.3" cy="486.3" r="3.05"/>
<circle cx="537.4" cy="479.9" r="3.05"/>
<circle cx="533.5" cy="475.8" r="3.05"/>
<circle cx="537.7" cy="475.9" r="3.05"/>
<circle cx="532.8" cy="480.3" r="3.05"/>
<circle cx="530.8" cy="478.8" r="3.05"/>
<circle cx="531.0" cy="479.5" r="3.05"/>
<circle cx="530.8" cy="480.5" r="3.05"/>
<circle cx="547.2" cy="473.2" r="3.05"/>
<circle cx="529.9" cy="481.8" r="3.05"/>
<circle cx="535.8" cy="477.7" r="3.05"/>
<circle cx="544.2" cy="475.6" r="3.05"/>
<circle cx="526.6" cy="481.9" r="3.05"/>
<circle cx="544.8" cy="474.5" r="3.05"/>
<circle cx="525.2" cy="483.9" r="3.05"/>
<circle cx="532.1" cy="483.4" r="3.05"/>
<circle cx="525.0" cy="485.0" r="3.05"/>
<circle cx="521.4" cy="483.5" r="3.05"/>
<circle cx="547.6" cy="472.3" r="3.05"/>
<circle cx="519.8" cy="485.6" r="3.05"/>
<circle cx="520.1" cy="487.2" r="3.05"/>
<circle cx="544.7" cy="471.0" r="3.05"/>
<circle cx="536.5" cy="480.6" r="3.05"/>
<circle cx="525.5" cy="485.1" r="3.05"/>
<circle cx="539.9" cy="477.7" r="3.05"/>
<circle cx="535.2" cy="480.0" r="3.05"/>
<circle cx="531.2" cy="481.4" r="3.05"/>
<circle cx="527.9" cy="481.7" r="3.05"/>
<circle cx="546.6" cy="471.9" r="3.05"/>
<circle cx="530.3" cy="483.6" r="3.05"/>
<circle cx="537.1" cy="477.7" r="3.05"/>
<circle cx="534.8" cy="479.6" r="3.05"/>
<circle cx="527.2" cy="480.4" r="3.05"/>
<circle cx="525.6" cy="481.5" r="3.05"/>
<circle cx="526.3" cy="483.7" r="3.05"/>
<circle cx="531.2" cy="479.9" r="3.05"/>
<circle cx="523.0" cy="485.4" r="3.05"/>
<circle cx="528.0" cy="483.4" r="3.05"/>
<circle cx="540.8" cy="474.0" r="3.05"/>
<circle cx="541.2" cy="477.4" r="3.05"/>
<circle cx="579.6" cy="449.5" r="3.05"/>
<circle cx="584.2" cy="442.6" r="3.05"/>
<circle cx="577.5" cy="447.6" r="3.05"/>
<circle cx="576.5" cy="450.7" r="3.05"/>
<circle cx="581.2" cy="443.1" r="3.05"/>
<circle cx="575.5" cy="448.7" r="3.05"/>
<circle cx="585.0" cy="450.1" r="3.05"/>
<circle cx="563.2" cy="456.4" r="3.05"/>
<circle cx="569.7" cy="454.7" r="3.05"/>
<circle cx="571.4" cy="446.9" r="3.05"/>
<circle cx="572.9" cy="446.5" r="3.05"/>
<circle cx="592.1" cy="445.5" r="3.05"/>
<circle cx="590.1" cy="441.6" r="3.05"/>
<circle cx="571.9" cy="452.0" r="3.05"/>
<circle cx="597.8" cy="432.6" r="3.05"/>
<circle cx="605.2" cy="430.3" r="3.05"/>
<circle cx="575.7" cy="458.7" r="3.05"/>
<circle cx="599.0" cy="438.7" r="3.05"/>
<circle cx="590.0" cy="435.3" r="3.05"/>
<circle cx="564.6" cy="461.5" r="3.05"/>
<circle cx="597.1" cy="442.3" r="3.05"/>
<circle cx="573.0" cy="449.8" r="3.05"/>
<circle cx="564.0" cy="456.9" r="3.05"/>
<circle cx="576.1" cy="448.7" r="3.05"/>
<circle cx="580.1" cy="449.3" r="3.05"/>
<circle cx="589.0" cy="440.0" r="3.05"/>
<circle cx="583.5" cy="448.1" r="3.05"/>
<circle cx="568.0" cy="460.7" r="3.05"/>
<circle cx="583.6" cy="439.2" r="3.05"/>
<circle cx="601.1" cy="435.0" r="3.05"/>
<circle cx="561.9" cy="457.3" r="3.05"/>
<circle cx="566.6" cy="453.6" r="3.05"/>
<circle cx="596.0" cy="439.6" r="3.05"/>
<circle cx="591.7" cy="442.2" r="3.05"/>
<circle cx="591.6" cy="441.0" r="3.05"/>
<circle cx="590.3" cy="436.5" r="3.05"/>
<circle cx="566.2" cy="456.5" r="3.05"/>
<circle cx="577.7" cy="451.4" r="3.05"/>
<circle cx="585.4" cy="437.3" r="3.05"/>
<circle cx="575.2" cy="453.5" r="3.05"/>
<circle cx="599.8" cy="440.8" r="3.05"/>
<circle cx="596.2" cy="433.8" r="3.05"/>
<circle cx="565.4" cy="454.9" r="3.05"/>
<circle cx="574.8" cy="451.4" r="3.05"/>
<circle cx="584.8" cy="449.0" r="3.05"/>
<circle cx="596.6" cy="440.6" r="3.05"/>
<circle cx="574.6" cy="453.9" r="3.05"/>
<circle cx="577.1" cy="453.7" r="3.05"/>
<circle cx="567.1" cy="456.1" r="3.05"/>
<circle cx="575.6" cy="445.1" r="3.05"/>
<circle cx="583.6" cy="444.2" r="3.05"/>
<circle cx="591.9" cy="431.1" r="3.05"/>
<circle cx="599.6" cy="435.5" r="3.05"/>
<circle cx="572.6" cy="445.6" r="3.05"/>
<circle cx="596.8" cy="436.2" r="3.05"/>
<circle cx="604.4" cy="433.7" r="3.05"/>
<circle cx="597.3" cy="431.5" r="3.05"/>
<circle cx="578.9" cy="446.2" r="3.05"/>
<circle cx="564.1" cy="457.2" r="3.05"/>
<circle cx="590.9" cy="439.3" r="3.05"/>
<circle cx="597.1" cy="433.3" r="3.05"/>
<circle cx="560.5" cy="451.8" r="3.05"/>
<circle cx="595.8" cy="440.2" r="3.05"/>
<circle cx="567.2" cy="457.9" r="3.05"/>
<circle cx="601.4" cy="434.0" r="3.05"/>
<circle cx="572.8" cy="446.6" r="3.05"/>
<circle cx="596.0" cy="435.8" r="3.05"/>
<circle cx="582.4" cy="441.9" r="3.05"/>
<circle cx="576.7" cy="453.0" r="3.05"/>
<circle cx="585.9" cy="438.9" r="3.05"/>
<circle cx="584.3" cy="444.5" r="3.05"/>
<circle cx="592.8" cy="438.9" r="3.05"/>
<circle cx="599.1" cy="437.5" r="3.05"/>
<circle cx="597.9" cy="439.0" r="3.05"/>
<circle cx="605.7" cy="431.1" r="3.05"/>
<circle cx="563.5" cy="455.2" r="3.05"/>
<circle cx="574.8" cy="449.2" r="3.05"/>
<circle cx="601.8" cy="437.8" r="3.05"/>
<circle cx="585.7" cy="439.9" r="3.05"/>
<circle cx="576.0" cy="450.1" r="3.05"/>
<circle cx="604.0" cy="431.7" r="3.05"/>
<circle cx="565.7" cy="447.8" r="3.05"/>
<circle cx="565.8" cy="445.7" r="3.05"/>
<circle cx="604.1" cy="437.0" r="3.05"/>
<circle cx="570.2" cy="455.4" r="3.05"/>
<circle cx="584.3" cy="444.5" r="3.05"/>
<circle cx="591.0" cy="435.0" r="3.05"/>
<circle cx="593.8" cy="436.5" r="3.05"/>
<circle cx="592.9" cy="434.6" r="3.05"/>
<circle cx="561.8" cy="457.7" r="3.05"/>
<circle cx="588.3" cy="444.9" r="3.05"/>
<circle cx="599.3" cy="442.4" r="3.05"/>
<circle cx="582.5" cy="446.6" r="3.05"/>
<circle cx="605.3" cy="433.9" r="3.05"/>
<circle cx="560.3" cy="456.4" r="3.05"/>
<circle cx="565.2" cy="457.9" r="3.05"/>
<circle cx="575.6" cy="452.2" r="3.05"/>
<circle cx="568.1" cy="451.5" r="3.05"/>
<circle cx="587.1" cy="443.1" r="3.05"/>
<circle cx="593.7" cy="437.3" r="3.05"/>
<circle cx="603.1" cy="435.8" r="3.05"/>
<circle cx="584.6" cy="446.3" r="3.05"/>
<circle cx="571.7" cy="461.0" r="3.05"/>
<circle cx="585.8" cy="444.8" r="3.05"/>
<circle cx="586.6" cy="451.9" r="3.05"/>
<circle cx="422.9" cy="564.8" r="3.05"/>
<circle cx="599.2" cy="425.6" r="3.05"/>
<circle cx="554.5" cy="457.7" r="3.05"/>
<circle cx="608.7" cy="432.3" r="3.05"/>
<circle cx="557.5" cy="460.7" r="3.05"/>
</g>
<line x1="400.5" x2="618.75" y1="500.60" y2="500.60" stroke="#bebebe" stroke-width="1.65"/>
<line y1="419.75" y2="571.25" x1="501.30" x2="501.30" stroke="#bebebe" stroke-width="1.65"/>
<line x1="338.30" y1="607.48" x2="664.30" y2="393.72" stroke="#b8b8b8" stroke-width="1.5"/>
</g>
<rect x="400.5" y="419.75" width="218.25" height="151.5" fill="none" stroke="#7f7f7f" stroke-width="1.1"/>
<line x1="419.80" x2="419.80" y1="571.25" y2="577.25" stroke="#000" stroke-width="1.3"/>
<text x="419.80" y="593" font-size="14.2" text-anchor="middle">-0.010</text>
<line x1="460.55" x2="460.55" y1="571.25" y2="577.25" stroke="#000" stroke-width="1.3"/>
<text x="460.55" y="593" font-size="14.2" text-anchor="middle">-0.005</text>
<line x1="501.30" x2="501.30" y1="571.25" y2="577.25" stroke="#000" stroke-width="1.3"/>
<text x="501.30" y="593" font-size="14.2" text-anchor="middle">0.000</text>
<line x1="542.05" x2="542.05" y1="571.25" y2="577.25" stroke="#000" stroke-width="1.3"/>
<text x="542.05" y="593" font-size="14.2" text-anchor="middle">0.005</text>
<line x1="582.80" x2="582.80" y1="571.25" y2="577.25" stroke="#000" stroke-width="1.3"/>
<text x="582.80" y="593" font-size="14.2" text-anchor="middle">0.010</text>
<line y1="554.04" y2="554.04" x1="393.9" x2="400.5" stroke="#000" stroke-width="1.3"/>
<text x="388.90" y="559.34" font-size="14.2" text-anchor="end">-0.010</text>
<line y1="527.32" y2="527.32" x1="393.9" x2="400.5" stroke="#000" stroke-width="1.3"/>
<text x="388.90" y="532.62" font-size="14.2" text-anchor="end">-0.005</text>
<line y1="500.60" y2="500.60" x1="393.9" x2="400.5" stroke="#000" stroke-width="1.3"/>
<text x="388.90" y="505.90" font-size="14.2" text-anchor="end">0.000</text>
<line y1="473.88" y2="473.88" x1="393.9" x2="400.5" stroke="#000" stroke-width="1.3"/>
<text x="388.90" y="479.18" font-size="14.2" text-anchor="end">0.005</text>
<line y1="447.16" y2="447.16" x1="393.9" x2="400.5" stroke="#000" stroke-width="1.3"/>
<text x="388.90" y="452.46" font-size="14.2" text-anchor="end">0.010</text>
<line y1="420.44" y2="420.44" x1="393.9" x2="400.5" stroke="#000" stroke-width="1.3"/>
<text x="388.90" y="425.74" font-size="14.2" text-anchor="end">0.015</text>
<text x="509.62" y="612.4" font-size="18.0" text-anchor="middle">Gibbs off-diagonal covariance</text>
<text transform="translate(344.2,495.50) rotate(-90)" font-size="17.95" text-anchor="middle">estimates</text>
<text x="378" y="344.8" font-size="21.6">All off-diagonal covariances</text>
<text x="443" y="390" font-size="14.2" font-weight="bold">Method:</text>
<rect x="507.8" y="371.30" width="27.3" height="26.6" fill="#fff" stroke="#bdbdbd" stroke-width="1.25"/>
<circle cx="521.50" cy="384.70" r="2.9" fill="#F8766D"/>
<text x="537.8" y="390" font-size="14.2">LRVB</text>
</svg></body></html>
